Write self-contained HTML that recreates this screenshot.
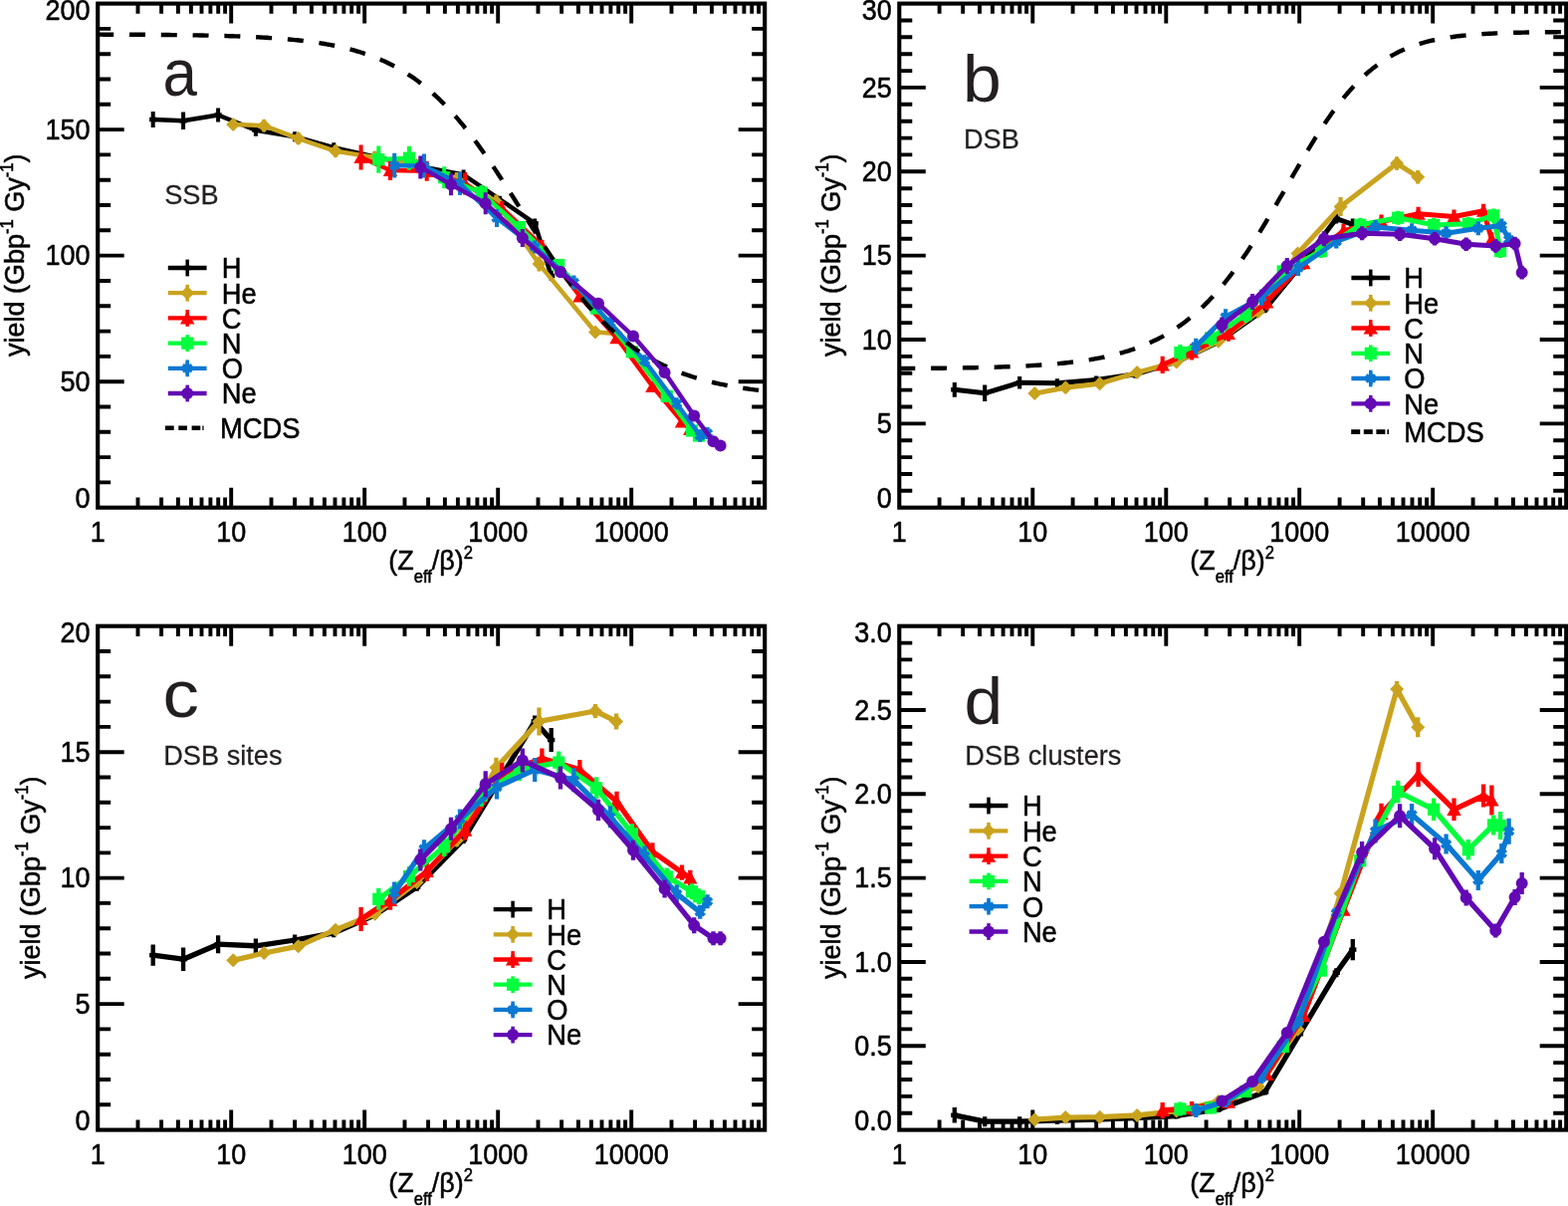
<!DOCTYPE html>
<html lang="en">
<head>
<meta charset="utf-8">
<title>Strand break yields versus (Zeff/β)²</title>
<style>
html,body{margin:0;padding:0;background:#fff;}
body{width:1575px;height:1211px;overflow:hidden;}
svg{display:block;}
text{font-family:'Liberation Sans', sans-serif;fill:#000;stroke:#000;stroke-width:0.5px;stroke-linejoin:round;}
.tk{font-size:27px;}
.lg{font-size:27.3px;}
.ti{font-size:27px;}
.sb{font-size:16.6px;}
.sp{font-size:16.6px;}
.lt{font-size:66.3px;fill:#231f20;stroke:none;}
.sbt{font-size:27.2px;fill:#231f20;stroke:#231f20;stroke-width:0.25px;}
</style>
</head>
<body>
<svg width="1575" height="1211" viewBox="0 0 1575 1211">
<rect width="1575" height="1211" fill="#fff"/>
<g id="panel-a">
<clipPath id="clip-a"><rect x="98.2" y="3.6" width="670" height="506.1"/></clipPath>
<rect x="98.2" y="3.6" width="670" height="506.1" fill="none" stroke="#000" stroke-width="4.1"/>
<path d="M138.5 509.7v-10.2M138.5 3.6v10.2M162.1 509.7v-10.2M162.1 3.6v10.2M178.9 509.7v-10.2M178.9 3.6v10.2M191.9 509.7v-10.2M191.9 3.6v10.2M202.5 509.7v-10.2M202.5 3.6v10.2M211.4 509.7v-10.2M211.4 3.6v10.2M219.2 509.7v-10.2M219.2 3.6v10.2M226.1 509.7v-10.2M226.1 3.6v10.2M232.2 509.7v-20M232.2 3.6v20M272.5 509.7v-10.2M272.5 3.6v10.2M296.1 509.7v-10.2M296.1 3.6v10.2M312.9 509.7v-10.2M312.9 3.6v10.2M325.9 509.7v-10.2M325.9 3.6v10.2M336.5 509.7v-10.2M336.5 3.6v10.2M345.4 509.7v-10.2M345.4 3.6v10.2M353.2 509.7v-10.2M353.2 3.6v10.2M360.1 509.7v-10.2M360.1 3.6v10.2M366.2 509.7v-20M366.2 3.6v20M406.5 509.7v-10.2M406.5 3.6v10.2M430.1 509.7v-10.2M430.1 3.6v10.2M446.9 509.7v-10.2M446.9 3.6v10.2M459.9 509.7v-10.2M459.9 3.6v10.2M470.5 509.7v-10.2M470.5 3.6v10.2M479.4 509.7v-10.2M479.4 3.6v10.2M487.2 509.7v-10.2M487.2 3.6v10.2M494.1 509.7v-10.2M494.1 3.6v10.2M500.2 509.7v-20M500.2 3.6v20M540.5 509.7v-10.2M540.5 3.6v10.2M564.1 509.7v-10.2M564.1 3.6v10.2M580.9 509.7v-10.2M580.9 3.6v10.2M593.9 509.7v-10.2M593.9 3.6v10.2M604.5 509.7v-10.2M604.5 3.6v10.2M613.4 509.7v-10.2M613.4 3.6v10.2M621.2 509.7v-10.2M621.2 3.6v10.2M628.1 509.7v-10.2M628.1 3.6v10.2M634.2 509.7v-20M634.2 3.6v20M674.5 509.7v-10.2M674.5 3.6v10.2M698.1 509.7v-10.2M698.1 3.6v10.2M714.9 509.7v-10.2M714.9 3.6v10.2M727.9 509.7v-10.2M727.9 3.6v10.2M738.5 509.7v-10.2M738.5 3.6v10.2M747.4 509.7v-10.2M747.4 3.6v10.2M755.2 509.7v-10.2M755.2 3.6v10.2M762.1 509.7v-10.2M762.1 3.6v10.2M98.2 484.4h13M768.2 484.4h-13M98.2 459.1h13M768.2 459.1h-13M98.2 433.8h13M768.2 433.8h-13M98.2 408.5h13M768.2 408.5h-13M98.2 383.2h26.5M768.2 383.2h-26.5M98.2 357.9h13M768.2 357.9h-13M98.2 332.6h13M768.2 332.6h-13M98.2 307.3h13M768.2 307.3h-13M98.2 282h13M768.2 282h-13M98.2 256.6h26.5M768.2 256.6h-26.5M98.2 231.3h13M768.2 231.3h-13M98.2 206h13M768.2 206h-13M98.2 180.7h13M768.2 180.7h-13M98.2 155.4h13M768.2 155.4h-13M98.2 130.1h26.5M768.2 130.1h-26.5M98.2 104.8h13M768.2 104.8h-13M98.2 79.5h13M768.2 79.5h-13M98.2 54.2h13M768.2 54.2h-13M98.2 28.9h13M768.2 28.9h-13" stroke="#000" stroke-width="3.9" fill="none"/>
<text transform="translate(90.6 510.1) scale(1 1.06)" class="tk" text-anchor="end">0</text>
<text transform="translate(90.6 392.8) scale(1 1.06)" class="tk" text-anchor="end">50</text>
<text transform="translate(90.6 266.2) scale(1 1.06)" class="tk" text-anchor="end">100</text>
<text transform="translate(90.6 139.7) scale(1 1.06)" class="tk" text-anchor="end">150</text>
<text transform="translate(90.6 19.6) scale(1 1.06)" class="tk" text-anchor="end">200</text>
<text transform="translate(98.2 543.6) scale(1 1.06)" class="tk" text-anchor="middle">1</text>
<text transform="translate(232.2 543.6) scale(1 1.06)" class="tk" text-anchor="middle">10</text>
<text transform="translate(366.2 543.6) scale(1 1.06)" class="tk" text-anchor="middle">100</text>
<text transform="translate(500.2 543.6) scale(1 1.06)" class="tk" text-anchor="middle">1000</text>
<text transform="translate(634.2 543.6) scale(1 1.06)" class="tk" text-anchor="middle">10000</text>
<text transform="translate(390.2 571.8) scale(1 1.05)" class="ti">(Z<tspan dy="13" class="sb">eff</tspan><tspan dy="-13">/β)</tspan><tspan dy="-10.2" class="sp">2</tspan></text>
<text transform="translate(24.2 358.1) rotate(-90) scale(1 1.05)" class="ti">yield (Gbp<tspan dy="-10.9" class="sp">-1</tspan><tspan dy="10.9"> Gy</tspan><tspan dy="-10.9" class="sp">-1</tspan><tspan dy="10.9">)</tspan></text>
<polyline points="153.7,120 184.1,121.3 219.1,115.5 256.9,130.7 296.1,137.2 335.3,148.2 376.6,157.5 418.7,166.5 465.6,175.5 500.4,199 537.2,224.4 553.7,277" fill="none" stroke="#000000" stroke-width="4.5" stroke-linejoin="round"/>
<path d="M153.7 112V128M184.1 112.6V130M219.1 108.5V122.5M256.9 124.7V136.7M296.1 132.2V142.2M335.3 143.2V153.2M376.6 152.5V162.5M418.7 161.5V171.5M465.6 170.5V180.5M537.2 219.4V229.4M553.7 272V282" stroke="#000000" stroke-width="4.0" fill="none"/>
<path d="M150.1 120H157.3" stroke="#000000" stroke-width="4.5" fill="none"/>
<path d="M180.5 121.3H187.7" stroke="#000000" stroke-width="4.5" fill="none"/>
<path d="M215.5 115.5H222.7" stroke="#000000" stroke-width="4.5" fill="none"/>
<path d="M253.3 130.7H260.5" stroke="#000000" stroke-width="4.5" fill="none"/>
<path d="M292.5 137.2H299.7" stroke="#000000" stroke-width="4.5" fill="none"/>
<path d="M331.7 148.2H338.9" stroke="#000000" stroke-width="4.5" fill="none"/>
<path d="M373 157.5H380.2" stroke="#000000" stroke-width="4.5" fill="none"/>
<path d="M415.1 166.5H422.3" stroke="#000000" stroke-width="4.5" fill="none"/>
<path d="M462 175.5H469.2" stroke="#000000" stroke-width="4.5" fill="none"/>
<path d="M496.8 199H504" stroke="#000000" stroke-width="4.5" fill="none"/>
<path d="M533.6 224.4H540.8" stroke="#000000" stroke-width="4.5" fill="none"/>
<path d="M550.1 277H557.3" stroke="#000000" stroke-width="4.5" fill="none"/>
<polyline points="234.2,125 265.2,126.2 299.6,139.1 337,151.8 376.6,158 418.7,166 458.8,180 498.4,202.5 541.5,265.1 598,333.5 619.1,335" fill="none" stroke="#C9A31E" stroke-width="4.5" stroke-linejoin="round"/>
<path d="M234.2 120V130M265.2 120.2V132.2M299.6 133.1V145.1M337 145.8V157.8M376.6 152V164M418.7 160V172M458.8 173V187M498.4 195.5V209.5M541.5 257.6V272.6M598 328.5V338.5M619.1 330V340" stroke="#C9A31E" stroke-width="4.0" fill="none"/>
<path d="M234.2 118L241.2 125L234.2 132L227.2 125Z" fill="#C9A31E"/>
<path d="M265.2 119.2L272.2 126.2L265.2 133.2L258.2 126.2Z" fill="#C9A31E"/>
<path d="M299.6 132.1L306.6 139.1L299.6 146.1L292.6 139.1Z" fill="#C9A31E"/>
<path d="M337 144.8L344 151.8L337 158.8L330 151.8Z" fill="#C9A31E"/>
<path d="M376.6 151L383.6 158L376.6 165L369.6 158Z" fill="#C9A31E"/>
<path d="M418.7 159L425.7 166L418.7 173L411.7 166Z" fill="#C9A31E"/>
<path d="M458.8 173L465.8 180L458.8 187L451.8 180Z" fill="#C9A31E"/>
<path d="M498.4 195.5L505.4 202.5L498.4 209.5L491.4 202.5Z" fill="#C9A31E"/>
<path d="M541.5 258.1L548.5 265.1L541.5 272.1L534.5 265.1Z" fill="#C9A31E"/>
<path d="M598 326.5L605 333.5L598 340.5L591 333.5Z" fill="#C9A31E"/>
<path d="M619.1 328L626.1 335L619.1 342L612.1 335Z" fill="#C9A31E"/>
<polyline points="362.6,158 392,171 428.7,171.8 467.1,184.4 504.2,209.1 544.4,247 582.4,297.5 619.5,339.2 655.4,387.9 685,423.4 693.3,430.8" fill="none" stroke="#FF0000" stroke-width="4.5" stroke-linejoin="round"/>
<path d="M362.6 145.6V170.4M392 161V181M428.7 161.8V181.8M467.1 173.4V195.4M504.2 202.1V216.1M544.4 241V253M582.4 292.5V302.5M619.5 335.2V343.2M655.4 383.9V391.9M685 419.4V427.4M693.3 426.8V434.8" stroke="#FF0000" stroke-width="4.0" fill="none"/>
<path d="M362.6 151.3L369.8 164.1L355.4 164.1Z" fill="#FF0000"/>
<path d="M392 164.3L399.2 177.1L384.8 177.1Z" fill="#FF0000"/>
<path d="M428.7 165.1L435.9 177.9L421.5 177.9Z" fill="#FF0000"/>
<path d="M467.1 177.7L474.3 190.5L459.9 190.5Z" fill="#FF0000"/>
<path d="M504.2 202.4L511.4 215.2L497 215.2Z" fill="#FF0000"/>
<path d="M544.4 240.3L551.6 253.1L537.2 253.1Z" fill="#FF0000"/>
<path d="M582.4 290.8L589.6 303.6L575.2 303.6Z" fill="#FF0000"/>
<path d="M619.5 332.5L626.7 345.3L612.3 345.3Z" fill="#FF0000"/>
<path d="M655.4 381.2L662.6 394L648.2 394Z" fill="#FF0000"/>
<path d="M685 416.7L692.2 429.5L677.8 429.5Z" fill="#FF0000"/>
<path d="M693.3 424.1L700.5 436.9L686.1 436.9Z" fill="#FF0000"/>
<polyline points="380.3,160.2 411,158.7 446.2,178.2 483.6,193.5 521.7,228.1 561.2,266 599.1,309.5 635,353.3 669.8,397.8 695,432.5 702,437.5" fill="none" stroke="#00FF3C" stroke-width="4.5" stroke-linejoin="round"/>
<path d="M380.3 146.6V173.8M411 146.7V170.7M446.2 167.2V189.2M483.6 186V201M521.7 222.1V234.1M561.2 261V271M599.1 305.5V313.5M635 349.3V357.3M669.8 393.8V401.8M695 428.5V436.5M702 433.5V441.5" stroke="#00FF3C" stroke-width="4.0" fill="none"/>
<rect x="374.2" y="154.1" width="12.2" height="12.2" fill="#00FF3C"/>
<rect x="404.9" y="152.6" width="12.2" height="12.2" fill="#00FF3C"/>
<rect x="440.1" y="172.1" width="12.2" height="12.2" fill="#00FF3C"/>
<rect x="477.5" y="187.4" width="12.2" height="12.2" fill="#00FF3C"/>
<rect x="515.6" y="222" width="12.2" height="12.2" fill="#00FF3C"/>
<rect x="555.1" y="259.9" width="12.2" height="12.2" fill="#00FF3C"/>
<rect x="593" y="303.4" width="12.2" height="12.2" fill="#00FF3C"/>
<rect x="628.9" y="347.2" width="12.2" height="12.2" fill="#00FF3C"/>
<rect x="663.7" y="391.7" width="12.2" height="12.2" fill="#00FF3C"/>
<rect x="688.9" y="426.4" width="12.2" height="12.2" fill="#00FF3C"/>
<rect x="695.9" y="431.4" width="12.2" height="12.2" fill="#00FF3C"/>
<polyline points="396.2,166.2 426,166.4 462,184.6 499,219 537.2,247.9 576.4,283.5 613,324.4 647.5,362.3 679.7,405.3 703.2,437.5 710.5,435" fill="none" stroke="#0B78D2" stroke-width="4.5" stroke-linejoin="round"/>
<path d="M396.2 153.8V178.6M426 154.4V178.4M462 173.1V196.1M499 210V228M537.2 241.3V254.5M576.4 276.5V290.5M613 319.4V329.4M647.5 358.3V366.3M679.7 401.3V409.3M703.2 431.5V443.5M710.5 429V441" stroke="#0B78D2" stroke-width="4.0" fill="none"/>
<path d="M391.6 163L400.8 169.4M400.8 163L391.6 169.4M396.2 160.2V172.2" stroke="#0B78D2" stroke-width="3.8" fill="none"/>
<path d="M421.4 163.2L430.6 169.6M430.6 163.2L421.4 169.6M426 160.4V172.4" stroke="#0B78D2" stroke-width="3.8" fill="none"/>
<path d="M457.4 181.4L466.6 187.8M466.6 181.4L457.4 187.8M462 178.6V190.6" stroke="#0B78D2" stroke-width="3.8" fill="none"/>
<path d="M494.4 215.8L503.6 222.2M503.6 215.8L494.4 222.2M499 213V225" stroke="#0B78D2" stroke-width="3.8" fill="none"/>
<path d="M532.6 244.7L541.8 251.1M541.8 244.7L532.6 251.1M537.2 241.9V253.9" stroke="#0B78D2" stroke-width="3.8" fill="none"/>
<path d="M571.8 280.3L581 286.7M581 280.3L571.8 286.7M576.4 277.5V289.5" stroke="#0B78D2" stroke-width="3.8" fill="none"/>
<path d="M608.4 321.2L617.6 327.6M617.6 321.2L608.4 327.6M613 318.4V330.4" stroke="#0B78D2" stroke-width="3.8" fill="none"/>
<path d="M642.9 359.1L652.1 365.5M652.1 359.1L642.9 365.5M647.5 356.3V368.3" stroke="#0B78D2" stroke-width="3.8" fill="none"/>
<path d="M675.1 402.1L684.3 408.5M684.3 402.1L675.1 408.5M679.7 399.3V411.3" stroke="#0B78D2" stroke-width="3.8" fill="none"/>
<path d="M698.6 434.3L707.8 440.7M707.8 434.3L698.6 440.7M703.2 431.5V443.5" stroke="#0B78D2" stroke-width="3.8" fill="none"/>
<path d="M705.9 431.8L715.1 438.2M715.1 431.8L705.9 438.2M710.5 429V441" stroke="#0B78D2" stroke-width="3.8" fill="none"/>
<g clip-path="url(#clip-a)"><path d="M98.2 34.6L100.2 34.6L102.2 34.6L104.2 34.7L106.2 34.7L108.2 34.7L110.2 34.7L112.2 34.7L114.2 34.7L116.2 34.7L118.2 34.7L120.2 34.7L122.2 34.7L124.2 34.7L126.2 34.7L128.2 34.7L130.2 34.8L132.2 34.8L134.2 34.8L136.2 34.8L138.2 34.8L140.2 34.8L142.2 34.8L144.2 34.8L146.2 34.8L148.2 34.9L150.2 34.9L152.2 34.9L154.2 34.9L156.2 34.9L158.2 34.9L160.2 35L162.2 35L164.2 35L166.2 35L168.2 35L170.2 35L172.2 35.1L174.2 35.1L176.2 35.1L178.2 35.1L180.2 35.2L182.2 35.2L184.2 35.2L186.2 35.2L188.2 35.3L190.2 35.3L192.2 35.3L194.2 35.4L196.2 35.4L198.2 35.4L200.2 35.5L202.2 35.5L204.2 35.5L206.2 35.6L208.2 35.6L210.2 35.7L212.2 35.7L214.2 35.7L216.2 35.8L218.2 35.8L220.2 35.9L222.2 35.9L224.2 36L226.2 36L228.2 36.1L230.2 36.2L232.2 36.2L234.2 36.3L236.2 36.4L238.2 36.4L240.2 36.5L242.2 36.6L244.2 36.7L246.2 36.7L248.2 36.8L250.2 36.9L252.2 37L254.2 37.1L256.2 37.2L258.2 37.3L260.2 37.4L262.2 37.5L264.2 37.6L266.2 37.7L268.2 37.8L270.2 38L272.2 38.1L274.2 38.2L276.2 38.4L278.2 38.5L280.2 38.7L282.2 38.8L284.2 39L286.2 39.1L288.2 39.3L290.2 39.5L292.2 39.7L294.2 39.9L296.2 40.1L298.2 40.3L300.2 40.5L302.2 40.7L304.2 40.9L306.2 41.2L308.2 41.4L310.2 41.7L312.2 41.9L314.2 42.2L316.2 42.5L318.2 42.8L320.2 43.1L322.2 43.4L324.2 43.7L326.2 44L328.2 44.4L330.2 44.7L332.2 45.1L334.2 45.5L336.2 45.9L338.2 46.3L340.2 46.7L342.2 47.2L344.2 47.6L346.2 48.1L348.2 48.6L350.2 49.1L352.2 49.6L354.2 50.1L356.2 50.7L358.2 51.3L360.2 51.9L362.2 52.5L364.2 53.1L366.2 53.8L368.2 54.4L370.2 55.1L372.2 55.9L374.2 56.6L376.2 57.4L378.2 58.2L380.2 59L382.2 59.8L384.2 60.7L386.2 61.6L388.2 62.5L390.2 63.5L392.2 64.5L394.2 65.5L396.2 66.5L398.2 67.6L400.2 68.7L402.2 69.9L404.2 71L406.2 72.2L408.2 73.5L410.2 74.8L412.2 76.1L414.2 77.4L416.2 78.8L418.2 80.3L420.2 81.7L422.2 83.3L424.2 84.8L426.2 86.4L428.2 88L430.2 89.7L432.2 91.4L434.2 93.2L436.2 95L438.2 96.8L440.2 98.7L442.2 100.6L444.2 102.6L446.2 104.6L448.2 106.7L450.2 108.8L452.2 110.9L454.2 113.1L456.2 115.3L458.2 117.6L460.2 119.9L462.2 122.3L464.2 124.7L466.2 127.2L468.2 129.6L470.2 132.2L472.2 134.7L474.2 137.4L476.2 140L478.2 142.7L480.2 145.4L482.2 148.2L484.2 151L486.2 153.8L488.2 156.7L490.2 159.6L492.2 162.5L494.2 165.4L496.2 168.4L498.2 171.4L500.2 174.5L502.2 177.5L504.2 180.6L506.2 183.7L508.2 186.8L510.2 189.9L512.2 193L514.2 196.2L516.2 199.3L518.2 202.5L520.2 205.6L522.2 208.8L524.2 212L526.2 215.1L528.2 218.3L530.2 221.5L532.2 224.6L534.2 227.8L536.2 230.9L538.2 234L540.2 237.1L542.2 240.2L544.2 243.3L546.2 246.4L548.2 249.4L550.2 252.4L552.2 255.4L554.2 258.4L556.2 261.3L558.2 264.3L560.2 267.1L562.2 270L564.2 272.8L566.2 275.6L568.2 278.4L570.2 281.1L572.2 283.8L574.2 286.4L576.2 289L578.2 291.6L580.2 294.1L582.2 296.6L584.2 299.1L586.2 301.5L588.2 303.9L590.2 306.2L592.2 308.5L594.2 310.8L596.2 313L598.2 315.2L600.2 317.3L602.2 319.4L604.2 321.5L606.2 323.5L608.2 325.4L610.2 327.4L612.2 329.3L614.2 331.1L616.2 332.9L618.2 334.7L620.2 336.4L622.2 338.1L624.2 339.8L626.2 341.4L628.2 343L630.2 344.5L632.2 346L634.2 347.5L636.2 349L638.2 350.4L640.2 351.7L642.2 353.1L644.2 354.4L646.2 355.6L648.2 356.9L650.2 358.1L652.2 359.2L654.2 360.4L656.2 361.5L658.2 362.6L660.2 363.7L662.2 364.7L664.2 365.7L666.2 366.7L668.2 367.6L670.2 368.5L672.2 369.4L674.2 370.3L676.2 371.2L678.2 372L680.2 372.8L682.2 373.6L684.2 374.3L686.2 375.1L688.2 375.8L690.2 376.5L692.2 377.2L694.2 377.9L696.2 378.5L698.2 379.1L700.2 379.7L702.2 380.3L704.2 380.9L706.2 381.4L708.2 382L710.2 382.5L712.2 383L714.2 383.5L716.2 384L718.2 384.5L720.2 384.9L722.2 385.4L724.2 385.8L726.2 386.2L728.2 386.6L730.2 387L732.2 387.4L734.2 387.7L736.2 388.1L738.2 388.4L740.2 388.8L742.2 389.1L744.2 389.4L746.2 389.7L748.2 390L750.2 390.3L752.2 390.6L754.2 390.9L756.2 391.1L758.2 391.4L760.2 391.6L762.2 391.9L764.2 392.1L766.2 392.4L768.2 392.6" fill="none" stroke="#000" stroke-width="4.4" stroke-dasharray="16 15.8" stroke-dashoffset="0"/></g>
<polyline points="422.3,167.9 453,185.2 487.7,204.2 524.8,238.9 563,273 601,304.7 636,337.6 667.6,373.9 697.2,417.6 716.5,443.2 723.6,447.4" fill="none" stroke="#6209B4" stroke-width="4.5" stroke-linejoin="round"/>
<path d="M422.3 156.4V179.4M453 174.2V196.2M487.7 193.2V215.2M524.8 229.9V247.9M563 267V279M601 299.7V309.7M636 333.6V341.6M667.6 369.9V377.9M697.2 413.6V421.6M716.5 439.2V447.2M723.6 443.4V451.4" stroke="#6209B4" stroke-width="4.0" fill="none"/>
<circle cx="422.3" cy="167.9" r="6.0" fill="#6209B4"/>
<circle cx="453" cy="185.2" r="6.0" fill="#6209B4"/>
<circle cx="487.7" cy="204.2" r="6.0" fill="#6209B4"/>
<circle cx="524.8" cy="238.9" r="6.0" fill="#6209B4"/>
<circle cx="563" cy="273" r="6.0" fill="#6209B4"/>
<circle cx="601" cy="304.7" r="6.0" fill="#6209B4"/>
<circle cx="636" cy="337.6" r="6.0" fill="#6209B4"/>
<circle cx="667.6" cy="373.9" r="6.0" fill="#6209B4"/>
<circle cx="697.2" cy="417.6" r="6.0" fill="#6209B4"/>
<circle cx="716.5" cy="443.2" r="6.0" fill="#6209B4"/>
<circle cx="723.6" cy="447.4" r="6.0" fill="#6209B4"/>
<text transform="translate(163.5 95.5) scale(0.933 1)" class="lt">a</text>
<text transform="translate(165.2 204.8) scale(1 1.05)" class="sbt">SSB</text>
<path d="M168.8 269H207.6" stroke="#000000" stroke-width="4.3" fill="none"/>
<path d="M188.2 260.6V277.4" stroke="#000000" stroke-width="3.5" fill="none"/>
<path d="M184.6 269H191.8" stroke="#000000" stroke-width="4.5" fill="none"/>
<text transform="translate(222.7 279.3) scale(1 1.05)" class="lg">H</text>
<path d="M168.8 294.2H207.6" stroke="#C9A31E" stroke-width="4.3" fill="none"/>
<path d="M188.2 285.8V302.6" stroke="#C9A31E" stroke-width="3.5" fill="none"/>
<path d="M188.2 287.2L195.2 294.2L188.2 301.2L181.2 294.2Z" fill="#C9A31E"/>
<text transform="translate(222.7 304.5) scale(1 1.05)" class="lg">He</text>
<path d="M168.8 319.4H207.6" stroke="#FF0000" stroke-width="4.3" fill="none"/>
<path d="M188.2 311V327.8" stroke="#FF0000" stroke-width="3.5" fill="none"/>
<path d="M188.2 312.7L195.4 325.5L181 325.5Z" fill="#FF0000"/>
<text transform="translate(222.7 329.7) scale(1 1.05)" class="lg">C</text>
<path d="M168.8 344.6H207.6" stroke="#00FF3C" stroke-width="4.3" fill="none"/>
<path d="M188.2 336.2V353" stroke="#00FF3C" stroke-width="3.5" fill="none"/>
<rect x="182.1" y="338.5" width="12.2" height="12.2" fill="#00FF3C"/>
<text transform="translate(222.7 354.9) scale(1 1.05)" class="lg">N</text>
<path d="M168.8 369.8H207.6" stroke="#0B78D2" stroke-width="4.3" fill="none"/>
<path d="M188.2 361.4V378.2" stroke="#0B78D2" stroke-width="3.5" fill="none"/>
<path d="M183.6 366.6L192.8 373M192.8 366.6L183.6 373M188.2 363.8V375.8" stroke="#0B78D2" stroke-width="3.8" fill="none"/>
<text transform="translate(222.7 380.1) scale(1 1.05)" class="lg">O</text>
<path d="M168.8 395H207.6" stroke="#6209B4" stroke-width="4.3" fill="none"/>
<path d="M188.2 386.6V403.4" stroke="#6209B4" stroke-width="3.5" fill="none"/>
<circle cx="188.2" cy="395" r="6.0" fill="#6209B4"/>
<text transform="translate(222.7 405.3) scale(1 1.05)" class="lg">Ne</text>
<path d="M166 429.8h38.8" stroke="#000" stroke-width="4.6" stroke-dasharray="8.7 4.6 8.7 4.6 8.7 2 1.3 100" fill="none"/>
<text transform="translate(221.1 440.1) scale(1 1.05)" class="lg">MCDS</text>
</g>
<g id="panel-b">
<clipPath id="clip-b"><rect x="903.3" y="3.6" width="669.9" height="506.1"/></clipPath>
<rect x="903.3" y="3.6" width="669.9" height="506.1" fill="none" stroke="#000" stroke-width="4.1"/>
<path d="M943.6 509.7v-10.2M943.6 3.6v10.2M967.2 509.7v-10.2M967.2 3.6v10.2M984 509.7v-10.2M984 3.6v10.2M996.9 509.7v-10.2M996.9 3.6v10.2M1007.6 509.7v-10.2M1007.6 3.6v10.2M1016.5 509.7v-10.2M1016.5 3.6v10.2M1024.3 509.7v-10.2M1024.3 3.6v10.2M1031.1 509.7v-10.2M1031.1 3.6v10.2M1037.3 509.7v-20M1037.3 3.6v20M1077.6 509.7v-10.2M1077.6 3.6v10.2M1101.2 509.7v-10.2M1101.2 3.6v10.2M1117.9 509.7v-10.2M1117.9 3.6v10.2M1130.9 509.7v-10.2M1130.9 3.6v10.2M1141.5 509.7v-10.2M1141.5 3.6v10.2M1150.5 509.7v-10.2M1150.5 3.6v10.2M1158.3 509.7v-10.2M1158.3 3.6v10.2M1165.1 509.7v-10.2M1165.1 3.6v10.2M1171.3 509.7v-20M1171.3 3.6v20M1211.6 509.7v-10.2M1211.6 3.6v10.2M1235.2 509.7v-10.2M1235.2 3.6v10.2M1251.9 509.7v-10.2M1251.9 3.6v10.2M1264.9 509.7v-10.2M1264.9 3.6v10.2M1275.5 509.7v-10.2M1275.5 3.6v10.2M1284.5 509.7v-10.2M1284.5 3.6v10.2M1292.3 509.7v-10.2M1292.3 3.6v10.2M1299.1 509.7v-10.2M1299.1 3.6v10.2M1305.2 509.7v-20M1305.2 3.6v20M1345.6 509.7v-10.2M1345.6 3.6v10.2M1369.2 509.7v-10.2M1369.2 3.6v10.2M1385.9 509.7v-10.2M1385.9 3.6v10.2M1398.9 509.7v-10.2M1398.9 3.6v10.2M1409.5 509.7v-10.2M1409.5 3.6v10.2M1418.5 509.7v-10.2M1418.5 3.6v10.2M1426.2 509.7v-10.2M1426.2 3.6v10.2M1433.1 509.7v-10.2M1433.1 3.6v10.2M1439.2 509.7v-20M1439.2 3.6v20M1479.6 509.7v-10.2M1479.6 3.6v10.2M1503.1 509.7v-10.2M1503.1 3.6v10.2M1519.9 509.7v-10.2M1519.9 3.6v10.2M1532.9 509.7v-10.2M1532.9 3.6v10.2M1543.5 509.7v-10.2M1543.5 3.6v10.2M1552.4 509.7v-10.2M1552.4 3.6v10.2M1560.2 509.7v-10.2M1560.2 3.6v10.2M1567.1 509.7v-10.2M1567.1 3.6v10.2M903.3 492.8h13M1573.2 492.8h-13M903.3 476h13M1573.2 476h-13M903.3 459.1h13M1573.2 459.1h-13M903.3 442.2h13M1573.2 442.2h-13M903.3 425.4h26.5M1573.2 425.4h-26.5M903.3 408.5h13M1573.2 408.5h-13M903.3 391.6h13M1573.2 391.6h-13M903.3 374.7h13M1573.2 374.7h-13M903.3 357.9h13M1573.2 357.9h-13M903.3 341h26.5M1573.2 341h-26.5M903.3 324.1h13M1573.2 324.1h-13M903.3 307.3h13M1573.2 307.3h-13M903.3 290.4h13M1573.2 290.4h-13M903.3 273.5h13M1573.2 273.5h-13M903.3 256.6h26.5M1573.2 256.6h-26.5M903.3 239.8h13M1573.2 239.8h-13M903.3 222.9h13M1573.2 222.9h-13M903.3 206h13M1573.2 206h-13M903.3 189.2h13M1573.2 189.2h-13M903.3 172.3h26.5M1573.2 172.3h-26.5M903.3 155.4h13M1573.2 155.4h-13M903.3 138.6h13M1573.2 138.6h-13M903.3 121.7h13M1573.2 121.7h-13M903.3 104.8h13M1573.2 104.8h-13M903.3 87.9h26.5M1573.2 87.9h-26.5M903.3 71.1h13M1573.2 71.1h-13M903.3 54.2h13M1573.2 54.2h-13M903.3 37.3h13M1573.2 37.3h-13M903.3 20.5h13M1573.2 20.5h-13" stroke="#000" stroke-width="3.9" fill="none"/>
<text transform="translate(895.7 510.1) scale(1 1.06)" class="tk" text-anchor="end">0</text>
<text transform="translate(895.7 435) scale(1 1.06)" class="tk" text-anchor="end">5</text>
<text transform="translate(895.7 350.6) scale(1 1.06)" class="tk" text-anchor="end">10</text>
<text transform="translate(895.7 266.2) scale(1 1.06)" class="tk" text-anchor="end">15</text>
<text transform="translate(895.7 181.9) scale(1 1.06)" class="tk" text-anchor="end">20</text>
<text transform="translate(895.7 97.5) scale(1 1.06)" class="tk" text-anchor="end">25</text>
<text transform="translate(895.7 19.6) scale(1 1.06)" class="tk" text-anchor="end">30</text>
<text transform="translate(903.3 543.6) scale(1 1.06)" class="tk" text-anchor="middle">1</text>
<text transform="translate(1037.3 543.6) scale(1 1.06)" class="tk" text-anchor="middle">10</text>
<text transform="translate(1171.3 543.6) scale(1 1.06)" class="tk" text-anchor="middle">100</text>
<text transform="translate(1305.2 543.6) scale(1 1.06)" class="tk" text-anchor="middle">1000</text>
<text transform="translate(1439.2 543.6) scale(1 1.06)" class="tk" text-anchor="middle">10000</text>
<text transform="translate(1195.2 571.8) scale(1 1.05)" class="ti">(Z<tspan dy="13" class="sb">eff</tspan><tspan dy="-13">/β)</tspan><tspan dy="-10.2" class="sp">2</tspan></text>
<text transform="translate(843.7 358.1) rotate(-90) scale(1 1.05)" class="ti">yield (Gbp<tspan dy="-10.9" class="sp">-1</tspan><tspan dy="10.9"> Gy</tspan><tspan dy="-10.9" class="sp">-1</tspan><tspan dy="10.9">)</tspan></text>
<polyline points="958.8,391.3 989.2,394.8 1024.2,384.2 1062,384.8 1101.2,381.5 1140.4,375.8 1181.7,363.4 1223.8,343.5 1270.7,310.3 1305.5,268 1342.3,219.6 1358.8,225.4" fill="none" stroke="#000000" stroke-width="5.0" stroke-linejoin="round"/>
<path d="M958.8 383.9V398.7M989.2 386.6V403M1024.2 378V390.4M1062 380.3V389.3M1101.2 377.5V385.5M1140.4 371.8V379.8M1181.7 359.4V367.4M1223.8 339.5V347.5M1270.7 306.3V314.3M1342.3 214.6V224.6M1358.8 219.4V231.4" stroke="#000000" stroke-width="4.1" fill="none"/>
<path d="M955.2 391.3H962.4" stroke="#000000" stroke-width="4.5" fill="none"/>
<path d="M985.6 394.8H992.8" stroke="#000000" stroke-width="4.5" fill="none"/>
<path d="M1020.6 384.2H1027.8" stroke="#000000" stroke-width="4.5" fill="none"/>
<path d="M1058.4 384.8H1065.6" stroke="#000000" stroke-width="4.5" fill="none"/>
<path d="M1097.6 381.5H1104.8" stroke="#000000" stroke-width="4.5" fill="none"/>
<path d="M1136.8 375.8H1144" stroke="#000000" stroke-width="4.5" fill="none"/>
<path d="M1178.1 363.4H1185.3" stroke="#000000" stroke-width="4.5" fill="none"/>
<path d="M1220.2 343.5H1227.4" stroke="#000000" stroke-width="4.5" fill="none"/>
<path d="M1267.1 310.3H1274.3" stroke="#000000" stroke-width="4.5" fill="none"/>
<path d="M1301.9 268H1309.1" stroke="#000000" stroke-width="4.5" fill="none"/>
<path d="M1338.7 219.6H1345.9" stroke="#000000" stroke-width="4.5" fill="none"/>
<path d="M1355.2 225.4H1362.4" stroke="#000000" stroke-width="4.5" fill="none"/>
<polyline points="1039.3,395.1 1070.3,389.3 1104.7,385.2 1142.1,374.1 1181.7,363.4 1223.8,342.7 1263.9,313 1303.5,254.5 1346.6,207.6 1403.1,164.1 1424.2,177.7" fill="none" stroke="#C9A31E" stroke-width="5.0" stroke-linejoin="round"/>
<path d="M1039.3 390.1V400.1M1070.3 384.3V394.3M1104.7 380.2V390.2M1142.1 369.1V379.1M1181.7 358.4V368.4M1223.8 337.7V347.7M1263.9 308V318M1303.5 249.5V259.5M1346.6 198.1V217.1M1403.1 157.4V170.8M1424.2 171V184.4" stroke="#C9A31E" stroke-width="4.1" fill="none"/>
<path d="M1039.3 388.1L1046.3 395.1L1039.3 402.1L1032.3 395.1Z" fill="#C9A31E"/>
<path d="M1070.3 382.3L1077.3 389.3L1070.3 396.3L1063.3 389.3Z" fill="#C9A31E"/>
<path d="M1104.7 378.2L1111.7 385.2L1104.7 392.2L1097.7 385.2Z" fill="#C9A31E"/>
<path d="M1142.1 367.1L1149.1 374.1L1142.1 381.1L1135.1 374.1Z" fill="#C9A31E"/>
<path d="M1181.7 356.4L1188.7 363.4L1181.7 370.4L1174.7 363.4Z" fill="#C9A31E"/>
<path d="M1223.8 335.7L1230.8 342.7L1223.8 349.7L1216.8 342.7Z" fill="#C9A31E"/>
<path d="M1263.9 306L1270.9 313L1263.9 320L1256.9 313Z" fill="#C9A31E"/>
<path d="M1303.5 247.5L1310.5 254.5L1303.5 261.5L1296.5 254.5Z" fill="#C9A31E"/>
<path d="M1346.6 200.6L1353.6 207.6L1346.6 214.6L1339.6 207.6Z" fill="#C9A31E"/>
<path d="M1403.1 157.1L1410.1 164.1L1403.1 171.1L1396.1 164.1Z" fill="#C9A31E"/>
<path d="M1424.2 170.7L1431.2 177.7L1424.2 184.7L1417.2 177.7Z" fill="#C9A31E"/>
<polyline points="1167.7,366.4 1197.1,353.5 1233.8,334.8 1272.2,303.4 1309.3,264.1 1349.5,231.8 1387.5,222.5 1424.6,214.7 1460.5,217.5 1490.1,211.7 1498.4,240.2" fill="none" stroke="#FF0000" stroke-width="5.0" stroke-linejoin="round"/>
<path d="M1167.7 357.7V375.1M1197.1 345.5V361.5M1233.8 326.8V342.8M1272.2 295.4V311.4M1309.3 257.1V271.1M1349.5 224.8V238.8M1387.5 215.5V229.5M1424.6 207.7V221.7M1460.5 210.5V224.5M1490.1 204.7V218.7M1498.4 233.2V247.2" stroke="#FF0000" stroke-width="4.1" fill="none"/>
<path d="M1167.7 359.7L1174.9 372.5L1160.5 372.5Z" fill="#FF0000"/>
<path d="M1197.1 346.8L1204.3 359.6L1189.9 359.6Z" fill="#FF0000"/>
<path d="M1233.8 328.1L1241 340.9L1226.6 340.9Z" fill="#FF0000"/>
<path d="M1272.2 296.7L1279.4 309.5L1265 309.5Z" fill="#FF0000"/>
<path d="M1309.3 257.4L1316.5 270.2L1302.1 270.2Z" fill="#FF0000"/>
<path d="M1349.5 225.1L1356.7 237.9L1342.3 237.9Z" fill="#FF0000"/>
<path d="M1387.5 215.8L1394.7 228.6L1380.3 228.6Z" fill="#FF0000"/>
<path d="M1424.6 208L1431.8 220.8L1417.4 220.8Z" fill="#FF0000"/>
<path d="M1460.5 210.8L1467.7 223.6L1453.3 223.6Z" fill="#FF0000"/>
<path d="M1490.1 205L1497.3 217.8L1482.9 217.8Z" fill="#FF0000"/>
<path d="M1498.4 233.5L1505.6 246.3L1491.2 246.3Z" fill="#FF0000"/>
<polyline points="1185.4,354 1216.1,339.4 1251.3,316 1288.7,272.5 1326.8,252.1 1366.3,225.8 1404.2,218.7 1440.1,225.9 1474.9,224.8 1500.1,216.4 1507.1,252.1" fill="none" stroke="#00FF3C" stroke-width="5.0" stroke-linejoin="round"/>
<path d="M1185.4 346V362M1216.1 331.4V347.4M1251.3 308V324M1288.7 264.5V280.5M1326.8 245.1V259.1M1366.3 218.8V232.8M1404.2 211.7V225.7M1440.1 218.9V232.9M1474.9 217.8V231.8M1500.1 209.4V223.4M1507.1 245.1V259.1" stroke="#00FF3C" stroke-width="4.1" fill="none"/>
<rect x="1179.3" y="347.9" width="12.2" height="12.2" fill="#00FF3C"/>
<rect x="1210" y="333.3" width="12.2" height="12.2" fill="#00FF3C"/>
<rect x="1245.2" y="309.9" width="12.2" height="12.2" fill="#00FF3C"/>
<rect x="1282.6" y="266.4" width="12.2" height="12.2" fill="#00FF3C"/>
<rect x="1320.7" y="246" width="12.2" height="12.2" fill="#00FF3C"/>
<rect x="1360.2" y="219.7" width="12.2" height="12.2" fill="#00FF3C"/>
<rect x="1398.1" y="212.6" width="12.2" height="12.2" fill="#00FF3C"/>
<rect x="1434" y="219.8" width="12.2" height="12.2" fill="#00FF3C"/>
<rect x="1468.8" y="218.7" width="12.2" height="12.2" fill="#00FF3C"/>
<rect x="1494" y="210.3" width="12.2" height="12.2" fill="#00FF3C"/>
<rect x="1501" y="246" width="12.2" height="12.2" fill="#00FF3C"/>
<polyline points="1201.3,347.8 1231.1,318.2 1267.1,298.8 1304.1,268.9 1342.3,242.5 1381.5,228.1 1418.1,231.2 1452.6,234.2 1484.8,229.3 1508.3,226.4 1515.6,240.5" fill="none" stroke="#0B78D2" stroke-width="5.0" stroke-linejoin="round"/>
<path d="M1201.3 339.8V355.8M1231.1 310.2V326.2M1267.1 290.8V306.8M1304.1 260.9V276.9M1342.3 235.5V249.5M1381.5 221.1V235.1M1418.1 224.2V238.2M1452.6 227.2V241.2M1484.8 222.3V236.3M1508.3 219.4V233.4M1515.6 233.5V247.5" stroke="#0B78D2" stroke-width="4.1" fill="none"/>
<path d="M1196.7 344.6L1205.9 351M1205.9 344.6L1196.7 351M1201.3 341.8V353.8" stroke="#0B78D2" stroke-width="3.8" fill="none"/>
<path d="M1226.5 315L1235.7 321.4M1235.7 315L1226.5 321.4M1231.1 312.2V324.2" stroke="#0B78D2" stroke-width="3.8" fill="none"/>
<path d="M1262.5 295.6L1271.7 302M1271.7 295.6L1262.5 302M1267.1 292.8V304.8" stroke="#0B78D2" stroke-width="3.8" fill="none"/>
<path d="M1299.5 265.7L1308.7 272.1M1308.7 265.7L1299.5 272.1M1304.1 262.9V274.9" stroke="#0B78D2" stroke-width="3.8" fill="none"/>
<path d="M1337.7 239.3L1346.9 245.7M1346.9 239.3L1337.7 245.7M1342.3 236.5V248.5" stroke="#0B78D2" stroke-width="3.8" fill="none"/>
<path d="M1376.9 224.9L1386.1 231.3M1386.1 224.9L1376.9 231.3M1381.5 222.1V234.1" stroke="#0B78D2" stroke-width="3.8" fill="none"/>
<path d="M1413.5 228L1422.7 234.4M1422.7 228L1413.5 234.4M1418.1 225.2V237.2" stroke="#0B78D2" stroke-width="3.8" fill="none"/>
<path d="M1448 231L1457.2 237.4M1457.2 231L1448 237.4M1452.6 228.2V240.2" stroke="#0B78D2" stroke-width="3.8" fill="none"/>
<path d="M1480.2 226.1L1489.4 232.5M1489.4 226.1L1480.2 232.5M1484.8 223.3V235.3" stroke="#0B78D2" stroke-width="3.8" fill="none"/>
<path d="M1503.7 223.2L1512.9 229.6M1512.9 223.2L1503.7 229.6M1508.3 220.4V232.4" stroke="#0B78D2" stroke-width="3.8" fill="none"/>
<path d="M1511 237.3L1520.2 243.7M1520.2 237.3L1511 243.7M1515.6 234.5V246.5" stroke="#0B78D2" stroke-width="3.8" fill="none"/>
<g clip-path="url(#clip-b)"><path d="M903.3 370L905.3 370L907.3 370L909.3 370L911.3 370L913.3 370L915.3 369.9L917.3 369.9L919.3 369.9L921.3 369.9L923.3 369.9L925.3 369.9L927.3 369.9L929.3 369.8L931.3 369.8L933.3 369.8L935.3 369.8L937.3 369.8L939.3 369.7L941.3 369.7L943.3 369.7L945.3 369.7L947.3 369.7L949.3 369.6L951.3 369.6L953.3 369.6L955.3 369.6L957.3 369.5L959.3 369.5L961.3 369.5L963.3 369.4L965.3 369.4L967.3 369.4L969.3 369.3L971.3 369.3L973.3 369.3L975.3 369.2L977.3 369.2L979.3 369.2L981.3 369.1L983.3 369.1L985.3 369L987.3 369L989.3 368.9L991.3 368.9L993.3 368.8L995.3 368.8L997.3 368.7L999.3 368.7L1001.3 368.6L1003.3 368.5L1005.3 368.5L1007.3 368.4L1009.3 368.3L1011.3 368.3L1013.3 368.2L1015.3 368.1L1017.3 368L1019.3 367.9L1021.3 367.9L1023.3 367.8L1025.3 367.7L1027.3 367.6L1029.3 367.5L1031.3 367.4L1033.3 367.3L1035.3 367.1L1037.3 367L1039.3 366.9L1041.3 366.8L1043.3 366.7L1045.3 366.5L1047.3 366.4L1049.3 366.2L1051.3 366.1L1053.3 365.9L1055.3 365.8L1057.3 365.6L1059.3 365.4L1061.3 365.3L1063.3 365.1L1065.3 364.9L1067.3 364.7L1069.3 364.5L1071.3 364.3L1073.3 364.1L1075.3 363.8L1077.3 363.6L1079.3 363.4L1081.3 363.1L1083.3 362.8L1085.3 362.6L1087.3 362.3L1089.3 362L1091.3 361.7L1093.3 361.4L1095.3 361.1L1097.3 360.7L1099.3 360.4L1101.3 360L1103.3 359.7L1105.3 359.3L1107.3 358.9L1109.3 358.5L1111.3 358L1113.3 357.6L1115.3 357.1L1117.3 356.7L1119.3 356.2L1121.3 355.7L1123.3 355.2L1125.3 354.6L1127.3 354.1L1129.3 353.5L1131.3 352.9L1133.3 352.3L1135.3 351.6L1137.3 351L1139.3 350.3L1141.3 349.6L1143.3 348.9L1145.3 348.1L1147.3 347.3L1149.3 346.5L1151.3 345.7L1153.3 344.9L1155.3 344L1157.3 343.1L1159.3 342.1L1161.3 341.2L1163.3 340.2L1165.3 339.1L1167.3 338.1L1169.3 337L1171.3 335.8L1173.3 334.7L1175.3 333.5L1177.3 332.2L1179.3 331L1181.3 329.7L1183.3 328.3L1185.3 326.9L1187.3 325.5L1189.3 324L1191.3 322.5L1193.3 320.9L1195.3 319.3L1197.3 317.7L1199.3 316L1201.3 314.3L1203.3 312.5L1205.3 310.7L1207.3 308.8L1209.3 306.9L1211.3 304.9L1213.3 302.9L1215.3 300.8L1217.3 298.7L1219.3 296.6L1221.3 294.3L1223.3 292.1L1225.3 289.8L1227.3 287.4L1229.3 285L1231.3 282.5L1233.3 280L1235.3 277.4L1237.3 274.8L1239.2 272.1L1241.2 269.4L1243.2 266.7L1245.2 263.9L1247.2 261L1249.2 258.1L1251.2 255.2L1253.2 252.2L1255.2 249.1L1257.2 246.1L1259.2 242.9L1261.2 239.8L1263.2 236.6L1265.2 233.4L1267.2 230.1L1269.2 226.8L1271.2 223.5L1273.2 220.2L1275.2 216.8L1277.2 213.4L1279.2 210L1281.2 206.6L1283.2 203.2L1285.2 199.7L1287.2 196.3L1289.2 192.8L1291.2 189.3L1293.2 185.8L1295.2 182.4L1297.2 178.9L1299.2 175.4L1301.2 172L1303.2 168.6L1305.2 165.1L1307.2 161.7L1309.2 158.3L1311.2 155L1313.2 151.7L1315.2 148.4L1317.2 145.1L1319.2 141.8L1321.2 138.6L1323.2 135.5L1325.2 132.4L1327.2 129.3L1329.2 126.3L1331.2 123.3L1333.2 120.3L1335.2 117.5L1337.2 114.6L1339.2 111.8L1341.2 109.1L1343.2 106.5L1345.2 103.8L1347.2 101.3L1349.2 98.8L1351.2 96.3L1353.2 94L1355.2 91.6L1357.2 89.4L1359.2 87.2L1361.2 85L1363.2 83L1365.2 80.9L1367.2 79L1369.2 77.1L1371.2 75.2L1373.2 73.5L1375.2 71.7L1377.2 70.1L1379.2 68.4L1381.2 66.9L1383.2 65.4L1385.2 63.9L1387.2 62.5L1389.2 61.2L1391.2 59.9L1393.2 58.6L1395.2 57.4L1397.2 56.2L1399.2 55.1L1401.2 54.1L1403.2 53L1405.2 52L1407.2 51.1L1409.2 50.2L1411.2 49.3L1413.2 48.5L1415.2 47.7L1417.2 46.9L1419.2 46.2L1421.2 45.5L1423.2 44.8L1425.2 44.2L1427.2 43.6L1429.2 43L1431.2 42.5L1433.2 41.9L1435.2 41.4L1437.2 40.9L1439.2 40.5L1441.2 40.1L1443.2 39.6L1445.2 39.2L1447.2 38.9L1449.2 38.5L1451.2 38.2L1453.2 37.8L1455.2 37.5L1457.2 37.2L1459.2 37L1461.2 36.7L1463.2 36.4L1465.2 36.2L1467.2 36L1469.2 35.8L1471.2 35.6L1473.2 35.4L1475.2 35.2L1477.2 35L1479.2 34.8L1481.2 34.7L1483.2 34.5L1485.2 34.4L1487.2 34.3L1489.2 34.1L1491.2 34L1493.2 33.9L1495.2 33.8L1497.2 33.7L1499.2 33.6L1501.2 33.5L1503.2 33.4L1505.2 33.3L1507.2 33.2L1509.2 33.2L1511.2 33.1L1513.2 33L1515.2 33L1517.2 32.9L1519.2 32.9L1521.2 32.8L1523.2 32.8L1525.2 32.7L1527.2 32.7L1529.2 32.6L1531.2 32.6L1533.2 32.5L1535.2 32.5L1537.2 32.5L1539.2 32.4L1541.2 32.4L1543.2 32.4L1545.2 32.4L1547.2 32.3L1549.2 32.3L1551.2 32.3L1553.2 32.3L1555.2 32.2L1557.2 32.2L1559.2 32.2L1561.2 32.2L1563.2 32.2L1565.2 32.1L1567.2 32.1L1569.2 32.1L1571.2 32.1L1573.2 32.1" fill="none" stroke="#000" stroke-width="4.4" stroke-dasharray="16 15.8" stroke-dashoffset="0"/></g>
<polyline points="1227.4,326.4 1258.1,303 1292.8,267 1329.9,239.8 1368.1,234.2 1406.1,235.3 1441.1,239.8 1472.7,245.3 1502.3,246.9 1521.6,244.5 1528.7,273.7" fill="none" stroke="#6209B4" stroke-width="5.0" stroke-linejoin="round"/>
<path d="M1227.4 318.4V334.4M1258.1 295V311M1292.8 259V275M1329.9 232.3V247.3M1368.1 227.2V241.2M1406.1 228.5V242.1M1441.1 233V246.6M1472.7 238.5V252.1M1502.3 240.1V253.7M1521.6 237.7V251.3M1528.7 266.9V280.5" stroke="#6209B4" stroke-width="4.1" fill="none"/>
<circle cx="1227.4" cy="326.4" r="6.0" fill="#6209B4"/>
<circle cx="1258.1" cy="303" r="6.0" fill="#6209B4"/>
<circle cx="1292.8" cy="267" r="6.0" fill="#6209B4"/>
<circle cx="1329.9" cy="239.8" r="6.0" fill="#6209B4"/>
<circle cx="1368.1" cy="234.2" r="6.0" fill="#6209B4"/>
<circle cx="1406.1" cy="235.3" r="6.0" fill="#6209B4"/>
<circle cx="1441.1" cy="239.8" r="6.0" fill="#6209B4"/>
<circle cx="1472.7" cy="245.3" r="6.0" fill="#6209B4"/>
<circle cx="1502.3" cy="246.9" r="6.0" fill="#6209B4"/>
<circle cx="1521.6" cy="244.5" r="6.0" fill="#6209B4"/>
<circle cx="1528.7" cy="273.7" r="6.0" fill="#6209B4"/>
<text transform="translate(966.9 101.9) scale(1.051 1)" class="lt">b</text>
<text transform="translate(967.9 149.2) scale(1 1.05)" class="sbt">DSB</text>
<path d="M1357.4 279H1396.2" stroke="#000000" stroke-width="4.3" fill="none"/>
<path d="M1376.8 270.6V287.4" stroke="#000000" stroke-width="3.5" fill="none"/>
<path d="M1373.2 279H1380.4" stroke="#000000" stroke-width="4.5" fill="none"/>
<text transform="translate(1410.3 289.3) scale(1 1.05)" class="lg">H</text>
<path d="M1357.4 304.3H1396.2" stroke="#C9A31E" stroke-width="4.3" fill="none"/>
<path d="M1376.8 295.9V312.7" stroke="#C9A31E" stroke-width="3.5" fill="none"/>
<path d="M1376.8 297.3L1383.8 304.3L1376.8 311.3L1369.8 304.3Z" fill="#C9A31E"/>
<text transform="translate(1410.3 314.6) scale(1 1.05)" class="lg">He</text>
<path d="M1357.4 329.5H1396.2" stroke="#FF0000" stroke-width="4.3" fill="none"/>
<path d="M1376.8 321.1V337.9" stroke="#FF0000" stroke-width="3.5" fill="none"/>
<path d="M1376.8 322.8L1384 335.6L1369.6 335.6Z" fill="#FF0000"/>
<text transform="translate(1410.3 339.8) scale(1 1.05)" class="lg">C</text>
<path d="M1357.4 354.8H1396.2" stroke="#00FF3C" stroke-width="4.3" fill="none"/>
<path d="M1376.8 346.4V363.2" stroke="#00FF3C" stroke-width="3.5" fill="none"/>
<rect x="1370.7" y="348.7" width="12.2" height="12.2" fill="#00FF3C"/>
<text transform="translate(1410.3 365.1) scale(1 1.05)" class="lg">N</text>
<path d="M1357.4 380H1396.2" stroke="#0B78D2" stroke-width="4.3" fill="none"/>
<path d="M1376.8 371.6V388.4" stroke="#0B78D2" stroke-width="3.5" fill="none"/>
<path d="M1372.2 376.8L1381.4 383.3M1381.4 376.8L1372.2 383.3M1376.8 374V386" stroke="#0B78D2" stroke-width="3.8" fill="none"/>
<text transform="translate(1410.3 390.3) scale(1 1.05)" class="lg">O</text>
<path d="M1357.4 405.3H1396.2" stroke="#6209B4" stroke-width="4.3" fill="none"/>
<path d="M1376.8 396.9V413.7" stroke="#6209B4" stroke-width="3.5" fill="none"/>
<circle cx="1376.8" cy="405.3" r="6.0" fill="#6209B4"/>
<text transform="translate(1410.3 415.6) scale(1 1.05)" class="lg">Ne</text>
<path d="M1357.2 433.6h38.8" stroke="#000" stroke-width="4.6" stroke-dasharray="9 3.6 9 3.6 9 2 1.6 100" fill="none"/>
<text transform="translate(1410.3 443.9) scale(1 1.05)" class="lg">MCDS</text>
</g>
<g id="panel-c">
<clipPath id="clip-c"><rect x="98.2" y="628.7" width="670" height="505.9"/></clipPath>
<rect x="98.2" y="628.7" width="670" height="505.9" fill="none" stroke="#000" stroke-width="4.1"/>
<path d="M138.5 1134.6v-10.2M138.5 628.7v10.2M162.1 1134.6v-10.2M162.1 628.7v10.2M178.9 1134.6v-10.2M178.9 628.7v10.2M191.9 1134.6v-10.2M191.9 628.7v10.2M202.5 1134.6v-10.2M202.5 628.7v10.2M211.4 1134.6v-10.2M211.4 628.7v10.2M219.2 1134.6v-10.2M219.2 628.7v10.2M226.1 1134.6v-10.2M226.1 628.7v10.2M232.2 1134.6v-20M232.2 628.7v20M272.5 1134.6v-10.2M272.5 628.7v10.2M296.1 1134.6v-10.2M296.1 628.7v10.2M312.9 1134.6v-10.2M312.9 628.7v10.2M325.9 1134.6v-10.2M325.9 628.7v10.2M336.5 1134.6v-10.2M336.5 628.7v10.2M345.4 1134.6v-10.2M345.4 628.7v10.2M353.2 1134.6v-10.2M353.2 628.7v10.2M360.1 1134.6v-10.2M360.1 628.7v10.2M366.2 1134.6v-20M366.2 628.7v20M406.5 1134.6v-10.2M406.5 628.7v10.2M430.1 1134.6v-10.2M430.1 628.7v10.2M446.9 1134.6v-10.2M446.9 628.7v10.2M459.9 1134.6v-10.2M459.9 628.7v10.2M470.5 1134.6v-10.2M470.5 628.7v10.2M479.4 1134.6v-10.2M479.4 628.7v10.2M487.2 1134.6v-10.2M487.2 628.7v10.2M494.1 1134.6v-10.2M494.1 628.7v10.2M500.2 1134.6v-20M500.2 628.7v20M540.5 1134.6v-10.2M540.5 628.7v10.2M564.1 1134.6v-10.2M564.1 628.7v10.2M580.9 1134.6v-10.2M580.9 628.7v10.2M593.9 1134.6v-10.2M593.9 628.7v10.2M604.5 1134.6v-10.2M604.5 628.7v10.2M613.4 1134.6v-10.2M613.4 628.7v10.2M621.2 1134.6v-10.2M621.2 628.7v10.2M628.1 1134.6v-10.2M628.1 628.7v10.2M634.2 1134.6v-20M634.2 628.7v20M674.5 1134.6v-10.2M674.5 628.7v10.2M698.1 1134.6v-10.2M698.1 628.7v10.2M714.9 1134.6v-10.2M714.9 628.7v10.2M727.9 1134.6v-10.2M727.9 628.7v10.2M738.5 1134.6v-10.2M738.5 628.7v10.2M747.4 1134.6v-10.2M747.4 628.7v10.2M755.2 1134.6v-10.2M755.2 628.7v10.2M762.1 1134.6v-10.2M762.1 628.7v10.2M98.2 1109.3h13M768.2 1109.3h-13M98.2 1084h13M768.2 1084h-13M98.2 1058.7h13M768.2 1058.7h-13M98.2 1033.4h13M768.2 1033.4h-13M98.2 1008.1h26.5M768.2 1008.1h-26.5M98.2 982.8h13M768.2 982.8h-13M98.2 957.5h13M768.2 957.5h-13M98.2 932.2h13M768.2 932.2h-13M98.2 906.9h13M768.2 906.9h-13M98.2 881.6h26.5M768.2 881.6h-26.5M98.2 856.4h13M768.2 856.4h-13M98.2 831.1h13M768.2 831.1h-13M98.2 805.8h13M768.2 805.8h-13M98.2 780.5h13M768.2 780.5h-13M98.2 755.2h26.5M768.2 755.2h-26.5M98.2 729.9h13M768.2 729.9h-13M98.2 704.6h13M768.2 704.6h-13M98.2 679.3h13M768.2 679.3h-13M98.2 654h13M768.2 654h-13" stroke="#000" stroke-width="3.9" fill="none"/>
<text transform="translate(90.6 1135) scale(1 1.06)" class="tk" text-anchor="end">0</text>
<text transform="translate(90.6 1017.7) scale(1 1.06)" class="tk" text-anchor="end">5</text>
<text transform="translate(90.6 891.2) scale(1 1.06)" class="tk" text-anchor="end">10</text>
<text transform="translate(90.6 764.8) scale(1 1.06)" class="tk" text-anchor="end">15</text>
<text transform="translate(90.6 644.7) scale(1 1.06)" class="tk" text-anchor="end">20</text>
<text transform="translate(98.2 1168.5) scale(1 1.06)" class="tk" text-anchor="middle">1</text>
<text transform="translate(232.2 1168.5) scale(1 1.06)" class="tk" text-anchor="middle">10</text>
<text transform="translate(366.2 1168.5) scale(1 1.06)" class="tk" text-anchor="middle">100</text>
<text transform="translate(500.2 1168.5) scale(1 1.06)" class="tk" text-anchor="middle">1000</text>
<text transform="translate(634.2 1168.5) scale(1 1.06)" class="tk" text-anchor="middle">10000</text>
<text transform="translate(390.2 1196.7) scale(1 1.05)" class="ti">(Z<tspan dy="13" class="sb">eff</tspan><tspan dy="-13">/β)</tspan><tspan dy="-10.2" class="sp">2</tspan></text>
<text transform="translate(39.6 983.1) rotate(-90) scale(1 1.05)" class="ti">yield (Gbp<tspan dy="-10.9" class="sp">-1</tspan><tspan dy="10.9"> Gy</tspan><tspan dy="-10.9" class="sp">-1</tspan><tspan dy="10.9">)</tspan></text>
<polyline points="153.7,959.1 184.1,963.2 219.1,948.2 256.9,949.8 296.1,944 335.3,936.8 376.6,918.7 418.7,890.8 465.6,843 500.4,785.4 537.2,724.4 553.7,743" fill="none" stroke="#000000" stroke-width="5.3" stroke-linejoin="round"/>
<path d="M153.7 948.4V969.8M184.1 951.4V975M219.1 939.2V957.2M256.9 942.6V957M296.1 938.5V949.5M335.3 932.3V941.3M376.6 914.7V922.7M418.7 886.8V894.8M465.6 839V847M537.2 718.4V730.4M553.7 731V755" stroke="#000000" stroke-width="4.3" fill="none"/>
<path d="M150.1 959.1H157.3" stroke="#000000" stroke-width="4.5" fill="none"/>
<path d="M180.5 963.2H187.7" stroke="#000000" stroke-width="4.5" fill="none"/>
<path d="M215.5 948.2H222.7" stroke="#000000" stroke-width="4.5" fill="none"/>
<path d="M253.3 949.8H260.5" stroke="#000000" stroke-width="4.5" fill="none"/>
<path d="M292.5 944H299.7" stroke="#000000" stroke-width="4.5" fill="none"/>
<path d="M331.7 936.8H338.9" stroke="#000000" stroke-width="4.5" fill="none"/>
<path d="M373 918.7H380.2" stroke="#000000" stroke-width="4.5" fill="none"/>
<path d="M415.1 890.8H422.3" stroke="#000000" stroke-width="4.5" fill="none"/>
<path d="M462 843H469.2" stroke="#000000" stroke-width="4.5" fill="none"/>
<path d="M496.8 785.4H504" stroke="#000000" stroke-width="4.5" fill="none"/>
<path d="M533.6 724.4H540.8" stroke="#000000" stroke-width="4.5" fill="none"/>
<path d="M550.1 743H557.3" stroke="#000000" stroke-width="4.5" fill="none"/>
<polyline points="234.2,964.3 265.2,957 299.6,950.2 337,933.7 376.6,917.8 418.7,886 458.8,844 498.4,770.8 541.5,724.4 598,714 619.1,724.4" fill="none" stroke="#C9A31E" stroke-width="5.3" stroke-linejoin="round"/>
<path d="M234.2 959.3V969.3M265.2 952V962M299.6 945.2V955.2M337 928.7V938.7M376.6 912.8V922.8M418.7 881V891M458.8 838V850M498.4 760.8V780.8M541.5 710.4V738.4M598 707V721M619.1 716.4V732.4" stroke="#C9A31E" stroke-width="4.3" fill="none"/>
<path d="M234.2 957.3L241.2 964.3L234.2 971.3L227.2 964.3Z" fill="#C9A31E"/>
<path d="M265.2 950L272.2 957L265.2 964L258.2 957Z" fill="#C9A31E"/>
<path d="M299.6 943.2L306.6 950.2L299.6 957.2L292.6 950.2Z" fill="#C9A31E"/>
<path d="M337 926.7L344 933.7L337 940.7L330 933.7Z" fill="#C9A31E"/>
<path d="M376.6 910.8L383.6 917.8L376.6 924.8L369.6 917.8Z" fill="#C9A31E"/>
<path d="M418.7 879L425.7 886L418.7 893L411.7 886Z" fill="#C9A31E"/>
<path d="M458.8 837L465.8 844L458.8 851L451.8 844Z" fill="#C9A31E"/>
<path d="M498.4 763.8L505.4 770.8L498.4 777.8L491.4 770.8Z" fill="#C9A31E"/>
<path d="M541.5 717.4L548.5 724.4L541.5 731.4L534.5 724.4Z" fill="#C9A31E"/>
<path d="M598 707L605 714L598 721L591 714Z" fill="#C9A31E"/>
<path d="M619.1 717.4L626.1 724.4L619.1 731.4L612.1 724.4Z" fill="#C9A31E"/>
<polyline points="362.6,923 392,903.8 428.7,875 467.1,833.7 504.2,777 544.4,761.5 582.4,772.9 619.5,804.7 655.4,855.2 685,876.1 693.3,881.5" fill="none" stroke="#FF0000" stroke-width="5.3" stroke-linejoin="round"/>
<path d="M362.6 911V935M392 893.8V913.8M428.7 865V885M467.1 823.7V843.7M504.2 766V788M544.4 751.5V771.5M582.4 762.9V782.9M619.5 794.7V814.7M655.4 846.2V864.2M685 868.4V883.8M693.3 873.8V889.2" stroke="#FF0000" stroke-width="4.3" fill="none"/>
<path d="M362.6 916.3L369.8 929.1L355.4 929.1Z" fill="#FF0000"/>
<path d="M392 897.1L399.2 909.9L384.8 909.9Z" fill="#FF0000"/>
<path d="M428.7 868.3L435.9 881.1L421.5 881.1Z" fill="#FF0000"/>
<path d="M467.1 827L474.3 839.8L459.9 839.8Z" fill="#FF0000"/>
<path d="M504.2 770.3L511.4 783.1L497 783.1Z" fill="#FF0000"/>
<path d="M544.4 754.8L551.6 767.6L537.2 767.6Z" fill="#FF0000"/>
<path d="M582.4 766.2L589.6 779L575.2 779Z" fill="#FF0000"/>
<path d="M619.5 798L626.7 810.8L612.3 810.8Z" fill="#FF0000"/>
<path d="M655.4 848.5L662.6 861.3L648.2 861.3Z" fill="#FF0000"/>
<path d="M685 869.4L692.2 882.2L677.8 882.2Z" fill="#FF0000"/>
<path d="M693.3 874.8L700.5 887.6L686.1 887.6Z" fill="#FF0000"/>
<polyline points="380.3,902.8 411,880 446.2,850 483.6,798.7 521.7,772.9 561.2,765.6 599.1,791.3 635,837.2 669.8,880.4 695,895.3 702,900.2" fill="none" stroke="#00FF3C" stroke-width="5.3" stroke-linejoin="round"/>
<path d="M380.3 891.8V913.8M411 870V890M446.2 840V860M483.6 787.7V809.7M521.7 761.9V783.9M561.2 754.6V776.6M599.1 780.3V802.3M635 827.2V847.2M669.8 871.4V889.4M695 887.3V903.3M702 892.2V908.2" stroke="#00FF3C" stroke-width="4.3" fill="none"/>
<rect x="374.2" y="896.7" width="12.2" height="12.2" fill="#00FF3C"/>
<rect x="404.9" y="873.9" width="12.2" height="12.2" fill="#00FF3C"/>
<rect x="440.1" y="843.9" width="12.2" height="12.2" fill="#00FF3C"/>
<rect x="477.5" y="792.6" width="12.2" height="12.2" fill="#00FF3C"/>
<rect x="515.6" y="766.8" width="12.2" height="12.2" fill="#00FF3C"/>
<rect x="555.1" y="759.5" width="12.2" height="12.2" fill="#00FF3C"/>
<rect x="593" y="785.2" width="12.2" height="12.2" fill="#00FF3C"/>
<rect x="628.9" y="831.1" width="12.2" height="12.2" fill="#00FF3C"/>
<rect x="663.7" y="874.3" width="12.2" height="12.2" fill="#00FF3C"/>
<rect x="688.9" y="889.2" width="12.2" height="12.2" fill="#00FF3C"/>
<rect x="695.9" y="894.1" width="12.2" height="12.2" fill="#00FF3C"/>
<polyline points="396.2,896.6 426,852.2 462,822.4 499,790.4 537.2,772.9 576.4,783.2 613,820.2 647.5,859.4 679.7,897.4 703.2,915.8 710.5,905.2" fill="none" stroke="#0B78D2" stroke-width="5.3" stroke-linejoin="round"/>
<path d="M396.2 885.6V907.6M426 843.2V861.2M462 812.4V832.4M499 778.4V802.4M537.2 760.9V784.9M576.4 771.2V795.2M613 809.2V831.2M647.5 849.4V869.4M679.7 888.4V906.4M703.2 908.8V922.8M710.5 898.2V912.2" stroke="#0B78D2" stroke-width="4.3" fill="none"/>
<path d="M391.6 893.4L400.8 899.8M400.8 893.4L391.6 899.8M396.2 890.6V902.6" stroke="#0B78D2" stroke-width="3.8" fill="none"/>
<path d="M421.4 849L430.6 855.4M430.6 849L421.4 855.4M426 846.2V858.2" stroke="#0B78D2" stroke-width="3.8" fill="none"/>
<path d="M457.4 819.2L466.6 825.6M466.6 819.2L457.4 825.6M462 816.4V828.4" stroke="#0B78D2" stroke-width="3.8" fill="none"/>
<path d="M494.4 787.2L503.6 793.6M503.6 787.2L494.4 793.6M499 784.4V796.4" stroke="#0B78D2" stroke-width="3.8" fill="none"/>
<path d="M532.6 769.7L541.8 776.1M541.8 769.7L532.6 776.1M537.2 766.9V778.9" stroke="#0B78D2" stroke-width="3.8" fill="none"/>
<path d="M571.8 780L581 786.4M581 780L571.8 786.4M576.4 777.2V789.2" stroke="#0B78D2" stroke-width="3.8" fill="none"/>
<path d="M608.4 817L617.6 823.4M617.6 817L608.4 823.4M613 814.2V826.2" stroke="#0B78D2" stroke-width="3.8" fill="none"/>
<path d="M642.9 856.2L652.1 862.6M652.1 856.2L642.9 862.6M647.5 853.4V865.4" stroke="#0B78D2" stroke-width="3.8" fill="none"/>
<path d="M675.1 894.2L684.3 900.6M684.3 894.2L675.1 900.6M679.7 891.4V903.4" stroke="#0B78D2" stroke-width="3.8" fill="none"/>
<path d="M698.6 912.6L707.8 919M707.8 912.6L698.6 919M703.2 909.8V921.8" stroke="#0B78D2" stroke-width="3.8" fill="none"/>
<path d="M705.9 902L715.1 908.4M715.1 902L705.9 908.4M710.5 899.2V911.2" stroke="#0B78D2" stroke-width="3.8" fill="none"/>
<polyline points="422.3,863.6 453,832.3 487.7,787.3 524.8,763.6 563,781.1 601,813.4 636,853.8 667.6,892.4 697.2,929.2 716.5,942.2 723.6,942.2" fill="none" stroke="#6209B4" stroke-width="5.3" stroke-linejoin="round"/>
<path d="M422.3 852.6V874.6M453 820.8V843.8M487.7 774.3V800.3M524.8 751.6V775.6M563 769.6V792.6M601 802.7V824.1M636 843.8V863.8M667.6 883.4V901.4M697.2 921.2V937.2M716.5 935.2V949.2M723.6 935.2V949.2" stroke="#6209B4" stroke-width="4.3" fill="none"/>
<circle cx="422.3" cy="863.6" r="6.0" fill="#6209B4"/>
<circle cx="453" cy="832.3" r="6.0" fill="#6209B4"/>
<circle cx="487.7" cy="787.3" r="6.0" fill="#6209B4"/>
<circle cx="524.8" cy="763.6" r="6.0" fill="#6209B4"/>
<circle cx="563" cy="781.1" r="6.0" fill="#6209B4"/>
<circle cx="601" cy="813.4" r="6.0" fill="#6209B4"/>
<circle cx="636" cy="853.8" r="6.0" fill="#6209B4"/>
<circle cx="667.6" cy="892.4" r="6.0" fill="#6209B4"/>
<circle cx="697.2" cy="929.2" r="6.0" fill="#6209B4"/>
<circle cx="716.5" cy="942.2" r="6.0" fill="#6209B4"/>
<circle cx="723.6" cy="942.2" r="6.0" fill="#6209B4"/>
<text transform="translate(163.4 720.3) scale(1.096 1)" class="lt">c</text>
<text transform="translate(164.2 768.3) scale(1 1.05)" class="sbt">DSB sites</text>
<path d="M495.7 913.1H534.5" stroke="#000000" stroke-width="4.3" fill="none"/>
<path d="M515.1 904.7V921.5" stroke="#000000" stroke-width="3.5" fill="none"/>
<path d="M511.5 913.1H518.7" stroke="#000000" stroke-width="4.5" fill="none"/>
<text transform="translate(549.3 923.4) scale(1 1.05)" class="lg">H</text>
<path d="M495.7 938.3H534.5" stroke="#C9A31E" stroke-width="4.3" fill="none"/>
<path d="M515.1 929.9V946.7" stroke="#C9A31E" stroke-width="3.5" fill="none"/>
<path d="M515.1 931.3L522.1 938.3L515.1 945.3L508.1 938.3Z" fill="#C9A31E"/>
<text transform="translate(549.3 948.6) scale(1 1.05)" class="lg">He</text>
<path d="M495.7 963.5H534.5" stroke="#FF0000" stroke-width="4.3" fill="none"/>
<path d="M515.1 955.1V971.9" stroke="#FF0000" stroke-width="3.5" fill="none"/>
<path d="M515.1 956.8L522.3 969.6L507.9 969.6Z" fill="#FF0000"/>
<text transform="translate(549.3 973.8) scale(1 1.05)" class="lg">C</text>
<path d="M495.7 988.7H534.5" stroke="#00FF3C" stroke-width="4.3" fill="none"/>
<path d="M515.1 980.3V997.1" stroke="#00FF3C" stroke-width="3.5" fill="none"/>
<rect x="509" y="982.6" width="12.2" height="12.2" fill="#00FF3C"/>
<text transform="translate(549.3 999) scale(1 1.05)" class="lg">N</text>
<path d="M495.7 1013.9H534.5" stroke="#0B78D2" stroke-width="4.3" fill="none"/>
<path d="M515.1 1005.5V1022.3" stroke="#0B78D2" stroke-width="3.5" fill="none"/>
<path d="M510.5 1010.7L519.7 1017.1M519.7 1010.7L510.5 1017.1M515.1 1007.9V1019.9" stroke="#0B78D2" stroke-width="3.8" fill="none"/>
<text transform="translate(549.3 1024.2) scale(1 1.05)" class="lg">O</text>
<path d="M495.7 1039.1H534.5" stroke="#6209B4" stroke-width="4.3" fill="none"/>
<path d="M515.1 1030.7V1047.5" stroke="#6209B4" stroke-width="3.5" fill="none"/>
<circle cx="515.1" cy="1039.1" r="6.0" fill="#6209B4"/>
<text transform="translate(549.3 1049.4) scale(1 1.05)" class="lg">Ne</text>
</g>
<g id="panel-d">
<clipPath id="clip-d"><rect x="903.3" y="628.7" width="669.9" height="505.9"/></clipPath>
<rect x="903.3" y="628.7" width="669.9" height="505.9" fill="none" stroke="#000" stroke-width="4.1"/>
<path d="M943.6 1134.6v-10.2M943.6 628.7v10.2M967.2 1134.6v-10.2M967.2 628.7v10.2M984 1134.6v-10.2M984 628.7v10.2M996.9 1134.6v-10.2M996.9 628.7v10.2M1007.6 1134.6v-10.2M1007.6 628.7v10.2M1016.5 1134.6v-10.2M1016.5 628.7v10.2M1024.3 1134.6v-10.2M1024.3 628.7v10.2M1031.1 1134.6v-10.2M1031.1 628.7v10.2M1037.3 1134.6v-20M1037.3 628.7v20M1077.6 1134.6v-10.2M1077.6 628.7v10.2M1101.2 1134.6v-10.2M1101.2 628.7v10.2M1117.9 1134.6v-10.2M1117.9 628.7v10.2M1130.9 1134.6v-10.2M1130.9 628.7v10.2M1141.5 1134.6v-10.2M1141.5 628.7v10.2M1150.5 1134.6v-10.2M1150.5 628.7v10.2M1158.3 1134.6v-10.2M1158.3 628.7v10.2M1165.1 1134.6v-10.2M1165.1 628.7v10.2M1171.3 1134.6v-20M1171.3 628.7v20M1211.6 1134.6v-10.2M1211.6 628.7v10.2M1235.2 1134.6v-10.2M1235.2 628.7v10.2M1251.9 1134.6v-10.2M1251.9 628.7v10.2M1264.9 1134.6v-10.2M1264.9 628.7v10.2M1275.5 1134.6v-10.2M1275.5 628.7v10.2M1284.5 1134.6v-10.2M1284.5 628.7v10.2M1292.3 1134.6v-10.2M1292.3 628.7v10.2M1299.1 1134.6v-10.2M1299.1 628.7v10.2M1305.2 1134.6v-20M1305.2 628.7v20M1345.6 1134.6v-10.2M1345.6 628.7v10.2M1369.2 1134.6v-10.2M1369.2 628.7v10.2M1385.9 1134.6v-10.2M1385.9 628.7v10.2M1398.9 1134.6v-10.2M1398.9 628.7v10.2M1409.5 1134.6v-10.2M1409.5 628.7v10.2M1418.5 1134.6v-10.2M1418.5 628.7v10.2M1426.2 1134.6v-10.2M1426.2 628.7v10.2M1433.1 1134.6v-10.2M1433.1 628.7v10.2M1439.2 1134.6v-20M1439.2 628.7v20M1479.6 1134.6v-10.2M1479.6 628.7v10.2M1503.1 1134.6v-10.2M1503.1 628.7v10.2M1519.9 1134.6v-10.2M1519.9 628.7v10.2M1532.9 1134.6v-10.2M1532.9 628.7v10.2M1543.5 1134.6v-10.2M1543.5 628.7v10.2M1552.4 1134.6v-10.2M1552.4 628.7v10.2M1560.2 1134.6v-10.2M1560.2 628.7v10.2M1567.1 1134.6v-10.2M1567.1 628.7v10.2M903.3 1117.7h13M1573.2 1117.7h-13M903.3 1100.9h13M1573.2 1100.9h-13M903.3 1084h13M1573.2 1084h-13M903.3 1067.1h13M1573.2 1067.1h-13M903.3 1050.3h26.5M1573.2 1050.3h-26.5M903.3 1033.4h13M1573.2 1033.4h-13M903.3 1016.6h13M1573.2 1016.6h-13M903.3 999.7h13M1573.2 999.7h-13M903.3 982.8h13M1573.2 982.8h-13M903.3 966h26.5M1573.2 966h-26.5M903.3 949.1h13M1573.2 949.1h-13M903.3 932.2h13M1573.2 932.2h-13M903.3 915.4h13M1573.2 915.4h-13M903.3 898.5h13M1573.2 898.5h-13M903.3 881.6h26.5M1573.2 881.6h-26.5M903.3 864.8h13M1573.2 864.8h-13M903.3 847.9h13M1573.2 847.9h-13M903.3 831.1h13M1573.2 831.1h-13M903.3 814.2h13M1573.2 814.2h-13M903.3 797.3h26.5M1573.2 797.3h-26.5M903.3 780.5h13M1573.2 780.5h-13M903.3 763.6h13M1573.2 763.6h-13M903.3 746.7h13M1573.2 746.7h-13M903.3 729.9h13M1573.2 729.9h-13M903.3 713h26.5M1573.2 713h-26.5M903.3 696.2h13M1573.2 696.2h-13M903.3 679.3h13M1573.2 679.3h-13M903.3 662.4h13M1573.2 662.4h-13M903.3 645.6h13M1573.2 645.6h-13" stroke="#000" stroke-width="3.9" fill="none"/>
<text transform="translate(895.7 1135) scale(1 1.06)" class="tk" text-anchor="end">0.0</text>
<text transform="translate(895.7 1059.9) scale(1 1.06)" class="tk" text-anchor="end">0.5</text>
<text transform="translate(895.7 975.6) scale(1 1.06)" class="tk" text-anchor="end">1.0</text>
<text transform="translate(895.7 891.2) scale(1 1.06)" class="tk" text-anchor="end">1.5</text>
<text transform="translate(895.7 806.9) scale(1 1.06)" class="tk" text-anchor="end">2.0</text>
<text transform="translate(895.7 722.6) scale(1 1.06)" class="tk" text-anchor="end">2.5</text>
<text transform="translate(895.7 644.7) scale(1 1.06)" class="tk" text-anchor="end">3.0</text>
<text transform="translate(903.3 1168.5) scale(1 1.06)" class="tk" text-anchor="middle">1</text>
<text transform="translate(1037.3 1168.5) scale(1 1.06)" class="tk" text-anchor="middle">10</text>
<text transform="translate(1171.3 1168.5) scale(1 1.06)" class="tk" text-anchor="middle">100</text>
<text transform="translate(1305.2 1168.5) scale(1 1.06)" class="tk" text-anchor="middle">1000</text>
<text transform="translate(1439.2 1168.5) scale(1 1.06)" class="tk" text-anchor="middle">10000</text>
<text transform="translate(1195.2 1196.7) scale(1 1.05)" class="ti">(Z<tspan dy="13" class="sb">eff</tspan><tspan dy="-13">/β)</tspan><tspan dy="-10.2" class="sp">2</tspan></text>
<text transform="translate(843.7 983.1) rotate(-90) scale(1 1.05)" class="ti">yield (Gbp<tspan dy="-10.9" class="sp">-1</tspan><tspan dy="10.9"> Gy</tspan><tspan dy="-10.9" class="sp">-1</tspan><tspan dy="10.9">)</tspan></text>
<polyline points="958.8,1119.8 989.2,1126.2 1024.2,1126.2 1062,1125 1101.2,1124 1140.4,1122.6 1181.7,1120.5 1223.8,1114 1270.7,1096.4 1305.5,1038.2 1342.3,976.7 1358.8,953.6" fill="none" stroke="#000000" stroke-width="5.3" stroke-linejoin="round"/>
<path d="M958.8 1112.1V1127.5M989.2 1121.2V1131.2M1024.2 1121.2V1131.2M1062 1121V1129M1101.2 1120V1128M1140.4 1118.6V1126.6M1181.7 1117.5V1123.5M1223.8 1111V1117M1270.7 1093.4V1099.4M1342.3 972.2V981.2M1358.8 942.9V964.3" stroke="#000000" stroke-width="4.3" fill="none"/>
<path d="M955.2 1119.8H962.4" stroke="#000000" stroke-width="4.5" fill="none"/>
<path d="M985.6 1126.2H992.8" stroke="#000000" stroke-width="4.5" fill="none"/>
<path d="M1020.6 1126.2H1027.8" stroke="#000000" stroke-width="4.5" fill="none"/>
<path d="M1058.4 1125H1065.6" stroke="#000000" stroke-width="4.5" fill="none"/>
<path d="M1097.6 1124H1104.8" stroke="#000000" stroke-width="4.5" fill="none"/>
<path d="M1136.8 1122.6H1144" stroke="#000000" stroke-width="4.5" fill="none"/>
<path d="M1178.1 1120.5H1185.3" stroke="#000000" stroke-width="4.5" fill="none"/>
<path d="M1220.2 1114H1227.4" stroke="#000000" stroke-width="4.5" fill="none"/>
<path d="M1267.1 1096.4H1274.3" stroke="#000000" stroke-width="4.5" fill="none"/>
<path d="M1301.9 1038.2H1309.1" stroke="#000000" stroke-width="4.5" fill="none"/>
<path d="M1338.7 976.7H1345.9" stroke="#000000" stroke-width="4.5" fill="none"/>
<path d="M1355.2 953.6H1362.4" stroke="#000000" stroke-width="4.5" fill="none"/>
<polyline points="1039.3,1124.2 1070.3,1122.1 1104.7,1121.7 1142.1,1120 1181.7,1115.6 1223.8,1106 1263.9,1091.2 1303.5,1033.8 1346.6,897.2 1403.1,692 1424.2,730.2" fill="none" stroke="#C9A31E" stroke-width="5.3" stroke-linejoin="round"/>
<path d="M1039.3 1120.2V1128.2M1070.3 1118.1V1126.1M1104.7 1117.7V1125.7M1142.1 1116V1124M1181.7 1111.6V1119.6M1223.8 1102V1110M1263.9 1087.2V1095.2M1303.5 1029.8V1037.8M1346.6 892.2V902.2M1403.1 684V700M1424.2 720.2V740.2" stroke="#C9A31E" stroke-width="4.3" fill="none"/>
<path d="M1039.3 1117.2L1046.3 1124.2L1039.3 1131.2L1032.3 1124.2Z" fill="#C9A31E"/>
<path d="M1070.3 1115.1L1077.3 1122.1L1070.3 1129.1L1063.3 1122.1Z" fill="#C9A31E"/>
<path d="M1104.7 1114.7L1111.7 1121.7L1104.7 1128.7L1097.7 1121.7Z" fill="#C9A31E"/>
<path d="M1142.1 1113L1149.1 1120L1142.1 1127L1135.1 1120Z" fill="#C9A31E"/>
<path d="M1181.7 1108.6L1188.7 1115.6L1181.7 1122.6L1174.7 1115.6Z" fill="#C9A31E"/>
<path d="M1223.8 1099L1230.8 1106L1223.8 1113L1216.8 1106Z" fill="#C9A31E"/>
<path d="M1263.9 1084.2L1270.9 1091.2L1263.9 1098.2L1256.9 1091.2Z" fill="#C9A31E"/>
<path d="M1303.5 1026.8L1310.5 1033.8L1303.5 1040.8L1296.5 1033.8Z" fill="#C9A31E"/>
<path d="M1346.6 890.2L1353.6 897.2L1346.6 904.2L1339.6 897.2Z" fill="#C9A31E"/>
<path d="M1403.1 685L1410.1 692L1403.1 699L1396.1 692Z" fill="#C9A31E"/>
<path d="M1424.2 723.2L1431.2 730.2L1424.2 737.2L1417.2 730.2Z" fill="#C9A31E"/>
<polyline points="1167.7,1115 1197.1,1112.9 1233.8,1106.7 1272.2,1078.8 1309.3,1020 1349.5,913.7 1387.5,816.8 1424.6,777.7 1460.5,812.8 1490.1,799 1498.4,803.5" fill="none" stroke="#FF0000" stroke-width="5.3" stroke-linejoin="round"/>
<path d="M1167.7 1107V1123M1197.1 1105.9V1119.9M1233.8 1100.7V1112.7M1272.2 1073.8V1083.8M1309.3 1016V1024M1349.5 908.7V918.7M1387.5 806.8V826.8M1424.6 765.3V790.1M1460.5 801.5V824.1M1490.1 787.5V810.5M1498.4 788.5V818.5" stroke="#FF0000" stroke-width="4.3" fill="none"/>
<path d="M1167.7 1108.3L1174.9 1121.1L1160.5 1121.1Z" fill="#FF0000"/>
<path d="M1197.1 1106.2L1204.3 1119L1189.9 1119Z" fill="#FF0000"/>
<path d="M1233.8 1100L1241 1112.8L1226.6 1112.8Z" fill="#FF0000"/>
<path d="M1272.2 1072.1L1279.4 1084.9L1265 1084.9Z" fill="#FF0000"/>
<path d="M1309.3 1013.3L1316.5 1026.1L1302.1 1026.1Z" fill="#FF0000"/>
<path d="M1349.5 907L1356.7 919.8L1342.3 919.8Z" fill="#FF0000"/>
<path d="M1387.5 810.1L1394.7 822.9L1380.3 822.9Z" fill="#FF0000"/>
<path d="M1424.6 771L1431.8 783.8L1417.4 783.8Z" fill="#FF0000"/>
<path d="M1460.5 806.1L1467.7 818.9L1453.3 818.9Z" fill="#FF0000"/>
<path d="M1490.1 792.3L1497.3 805.1L1482.9 805.1Z" fill="#FF0000"/>
<path d="M1498.4 796.8L1505.6 809.6L1491.2 809.6Z" fill="#FF0000"/>
<polyline points="1185.4,1113.5 1216.1,1112.4 1251.3,1096 1288.7,1051 1326.8,974.6 1366.3,864.3 1404.2,795 1440.1,812.8 1474.9,853.2 1500.1,828.4 1507.1,829" fill="none" stroke="#00FF3C" stroke-width="5.3" stroke-linejoin="round"/>
<path d="M1185.4 1106.5V1120.5M1216.1 1106.4V1118.4M1251.3 1091V1101M1288.7 1047V1055M1326.8 970.6V978.6M1366.3 858.3V870.3M1404.2 783.7V806.3M1440.1 801.5V824.1M1474.9 842.9V863.5M1500.1 818.4V838.4M1507.1 815V843" stroke="#00FF3C" stroke-width="4.3" fill="none"/>
<rect x="1179.3" y="1107.4" width="12.2" height="12.2" fill="#00FF3C"/>
<rect x="1210" y="1106.3" width="12.2" height="12.2" fill="#00FF3C"/>
<rect x="1245.2" y="1089.9" width="12.2" height="12.2" fill="#00FF3C"/>
<rect x="1282.6" y="1044.9" width="12.2" height="12.2" fill="#00FF3C"/>
<rect x="1320.7" y="968.5" width="12.2" height="12.2" fill="#00FF3C"/>
<rect x="1360.2" y="858.2" width="12.2" height="12.2" fill="#00FF3C"/>
<rect x="1398.1" y="788.9" width="12.2" height="12.2" fill="#00FF3C"/>
<rect x="1434" y="806.7" width="12.2" height="12.2" fill="#00FF3C"/>
<rect x="1468.8" y="847.1" width="12.2" height="12.2" fill="#00FF3C"/>
<rect x="1494" y="822.3" width="12.2" height="12.2" fill="#00FF3C"/>
<rect x="1501" y="822.9" width="12.2" height="12.2" fill="#00FF3C"/>
<polyline points="1201.3,1115 1231.1,1106 1267.1,1082 1304.1,1026.2 1342.3,916.8 1381.5,834.4 1418.1,817.9 1452.6,847.6 1484.8,883.9 1508.3,857 1515.6,834.8" fill="none" stroke="#0B78D2" stroke-width="5.3" stroke-linejoin="round"/>
<path d="M1201.3 1108V1122M1231.1 1101V1111M1267.1 1078V1086M1304.1 1022.2V1030.2M1342.3 911.8V921.8M1381.5 822.4V846.4M1418.1 806.9V828.9M1452.6 837.6V857.6M1484.8 873.9V893.9M1508.3 847V867M1515.6 821.8V847.8" stroke="#0B78D2" stroke-width="4.3" fill="none"/>
<path d="M1196.7 1111.8L1205.9 1118.2M1205.9 1111.8L1196.7 1118.2M1201.3 1109V1121" stroke="#0B78D2" stroke-width="3.8" fill="none"/>
<path d="M1226.5 1102.8L1235.7 1109.2M1235.7 1102.8L1226.5 1109.2M1231.1 1100V1112" stroke="#0B78D2" stroke-width="3.8" fill="none"/>
<path d="M1262.5 1078.8L1271.7 1085.2M1271.7 1078.8L1262.5 1085.2M1267.1 1076V1088" stroke="#0B78D2" stroke-width="3.8" fill="none"/>
<path d="M1299.5 1023L1308.7 1029.4M1308.7 1023L1299.5 1029.4M1304.1 1020.2V1032.2" stroke="#0B78D2" stroke-width="3.8" fill="none"/>
<path d="M1337.7 913.6L1346.9 920M1346.9 913.6L1337.7 920M1342.3 910.8V922.8" stroke="#0B78D2" stroke-width="3.8" fill="none"/>
<path d="M1376.9 831.2L1386.1 837.6M1386.1 831.2L1376.9 837.6M1381.5 828.4V840.4" stroke="#0B78D2" stroke-width="3.8" fill="none"/>
<path d="M1413.5 814.7L1422.7 821.1M1422.7 814.7L1413.5 821.1M1418.1 811.9V823.9" stroke="#0B78D2" stroke-width="3.8" fill="none"/>
<path d="M1448 844.4L1457.2 850.8M1457.2 844.4L1448 850.8M1452.6 841.6V853.6" stroke="#0B78D2" stroke-width="3.8" fill="none"/>
<path d="M1480.2 880.7L1489.4 887.1M1489.4 880.7L1480.2 887.1M1484.8 877.9V889.9" stroke="#0B78D2" stroke-width="3.8" fill="none"/>
<path d="M1503.7 853.8L1512.9 860.2M1512.9 853.8L1503.7 860.2M1508.3 851V863" stroke="#0B78D2" stroke-width="3.8" fill="none"/>
<path d="M1511 831.6L1520.2 838M1520.2 831.6L1511 838M1515.6 828.8V840.8" stroke="#0B78D2" stroke-width="3.8" fill="none"/>
<polyline points="1227.4,1105.6 1258.1,1086 1292.8,1036.9 1329.9,945.7 1368.1,856 1406.1,819.2 1441.1,852.2 1472.7,901.4 1502.3,934.4 1521.6,901 1528.7,887" fill="none" stroke="#6209B4" stroke-width="5.3" stroke-linejoin="round"/>
<path d="M1227.4 1100.6V1110.6M1258.1 1082V1090M1292.8 1032.9V1040.9M1329.9 940.7V950.7M1368.1 845V867M1406.1 807.2V831.2M1441.1 841.2V863.2M1472.7 893.4V909.4M1502.3 927.4V941.4M1521.6 893V909M1528.7 876V898" stroke="#6209B4" stroke-width="4.3" fill="none"/>
<circle cx="1227.4" cy="1105.6" r="6.0" fill="#6209B4"/>
<circle cx="1258.1" cy="1086" r="6.0" fill="#6209B4"/>
<circle cx="1292.8" cy="1036.9" r="6.0" fill="#6209B4"/>
<circle cx="1329.9" cy="945.7" r="6.0" fill="#6209B4"/>
<circle cx="1368.1" cy="856" r="6.0" fill="#6209B4"/>
<circle cx="1406.1" cy="819.2" r="6.0" fill="#6209B4"/>
<circle cx="1441.1" cy="852.2" r="6.0" fill="#6209B4"/>
<circle cx="1472.7" cy="901.4" r="6.0" fill="#6209B4"/>
<circle cx="1502.3" cy="934.4" r="6.0" fill="#6209B4"/>
<circle cx="1521.6" cy="901" r="6.0" fill="#6209B4"/>
<circle cx="1528.7" cy="887" r="6.0" fill="#6209B4"/>
<text transform="translate(968.6 726.9) scale(1.049 1)" class="lt">d</text>
<text transform="translate(969.3 768.2) scale(1 1.05)" class="sbt">DSB clusters</text>
<path d="M973.6 809H1012.4" stroke="#000000" stroke-width="4.3" fill="none"/>
<path d="M993 800.6V817.4" stroke="#000000" stroke-width="3.5" fill="none"/>
<path d="M989.4 809H996.6" stroke="#000000" stroke-width="4.5" fill="none"/>
<text transform="translate(1026.9 819.3) scale(1 1.05)" class="lg">H</text>
<path d="M973.6 834.3H1012.4" stroke="#C9A31E" stroke-width="4.3" fill="none"/>
<path d="M993 825.9V842.7" stroke="#C9A31E" stroke-width="3.5" fill="none"/>
<path d="M993 827.3L1000 834.3L993 841.3L986 834.3Z" fill="#C9A31E"/>
<text transform="translate(1026.9 844.6) scale(1 1.05)" class="lg">He</text>
<path d="M973.6 859.6H1012.4" stroke="#FF0000" stroke-width="4.3" fill="none"/>
<path d="M993 851.2V868" stroke="#FF0000" stroke-width="3.5" fill="none"/>
<path d="M993 852.9L1000.2 865.7L985.8 865.7Z" fill="#FF0000"/>
<text transform="translate(1026.9 869.9) scale(1 1.05)" class="lg">C</text>
<path d="M973.6 884.9H1012.4" stroke="#00FF3C" stroke-width="4.3" fill="none"/>
<path d="M993 876.5V893.3" stroke="#00FF3C" stroke-width="3.5" fill="none"/>
<rect x="986.9" y="878.8" width="12.2" height="12.2" fill="#00FF3C"/>
<text transform="translate(1026.9 895.2) scale(1 1.05)" class="lg">N</text>
<path d="M973.6 910.2H1012.4" stroke="#0B78D2" stroke-width="4.3" fill="none"/>
<path d="M993 901.8V918.6" stroke="#0B78D2" stroke-width="3.5" fill="none"/>
<path d="M988.4 907L997.6 913.4M997.6 907L988.4 913.4M993 904.2V916.2" stroke="#0B78D2" stroke-width="3.8" fill="none"/>
<text transform="translate(1026.9 920.5) scale(1 1.05)" class="lg">O</text>
<path d="M973.6 935.5H1012.4" stroke="#6209B4" stroke-width="4.3" fill="none"/>
<path d="M993 927.1V943.9" stroke="#6209B4" stroke-width="3.5" fill="none"/>
<circle cx="993" cy="935.5" r="6.0" fill="#6209B4"/>
<text transform="translate(1026.9 945.8) scale(1 1.05)" class="lg">Ne</text>
</g>
</svg>
</body>
</html>
